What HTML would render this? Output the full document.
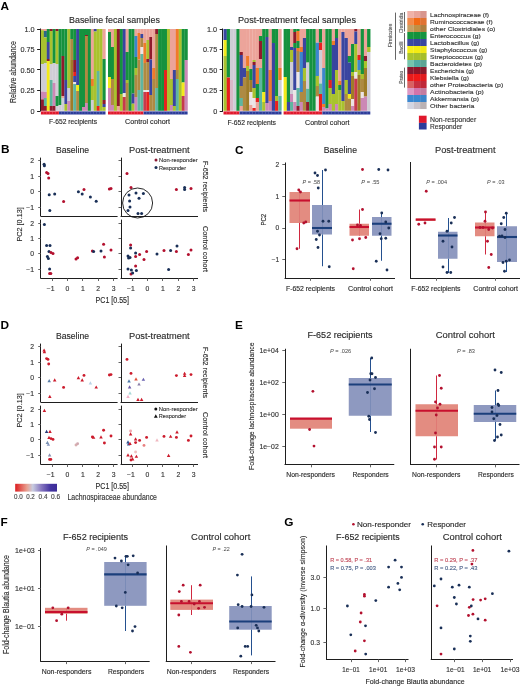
<!DOCTYPE html>
<html><head><meta charset="utf-8"><style>
html,body{margin:0;padding:0;background:#fff;}
svg{display:block;will-change:transform;font-family:"Liberation Sans",sans-serif;}
</style></head><body>
<svg width="520" height="687" viewBox="0 0 520 687" fill="#2a2a2a">
<rect width="520" height="687" fill="#fff"/>
<text x="0.50" y="10.00" font-size="11.8" font-weight="bold" fill="#000">A</text>
<text x="114.50" y="23.10" font-size="8.6" text-anchor="middle" textLength="91.00" lengthAdjust="spacingAndGlyphs" stroke="#2a2a2a" stroke-width="0.13">Baseline fecal samples</text>
<text x="297.00" y="23.10" font-size="8.6" text-anchor="middle" textLength="118.00" lengthAdjust="spacingAndGlyphs" stroke="#2a2a2a" stroke-width="0.13">Post-treatment fecal samples</text>
<text x="13.00" y="74.95" font-size="8.2" text-anchor="middle" textLength="62.00" lengthAdjust="spacingAndGlyphs" stroke="#2a2a2a" stroke-width="0.13" transform="rotate(-90 13.00 72.00)">Relative abundance</text>
<line x1="40.50" y1="28.50" x2="40.50" y2="111.40" stroke="#1e1e1e" stroke-width="1.0"/>
<line x1="37.10" y1="29.50" x2="40.30" y2="29.50" stroke="#1e1e1e" stroke-width="1.0"/>
<text x="34.60" y="31.63" font-size="7.3" text-anchor="end" fill="#333" stroke="#333" stroke-width="0.13">1.0</text>
<line x1="37.10" y1="49.50" x2="40.30" y2="49.50" stroke="#1e1e1e" stroke-width="1.0"/>
<text x="34.60" y="52.08" font-size="7.3" text-anchor="end" fill="#333" stroke="#333" stroke-width="0.13">0.75</text>
<line x1="37.10" y1="69.50" x2="40.30" y2="69.50" stroke="#1e1e1e" stroke-width="1.0"/>
<text x="34.60" y="72.53" font-size="7.3" text-anchor="end" fill="#333" stroke="#333" stroke-width="0.13">0.50</text>
<line x1="37.10" y1="90.50" x2="40.30" y2="90.50" stroke="#1e1e1e" stroke-width="1.0"/>
<text x="34.60" y="92.98" font-size="7.3" text-anchor="end" fill="#333" stroke="#333" stroke-width="0.13">0.25</text>
<line x1="37.10" y1="111.50" x2="40.30" y2="111.50" stroke="#1e1e1e" stroke-width="1.0"/>
<text x="34.60" y="114.03" font-size="7.3" text-anchor="end" fill="#333" stroke="#333" stroke-width="0.13">0</text>
<line x1="222.50" y1="28.50" x2="222.50" y2="111.40" stroke="#1e1e1e" stroke-width="1.0"/>
<line x1="219.70" y1="29.50" x2="222.90" y2="29.50" stroke="#1e1e1e" stroke-width="1.0"/>
<text x="217.20" y="31.63" font-size="7.3" text-anchor="end" fill="#333" stroke="#333" stroke-width="0.13">1.0</text>
<line x1="219.70" y1="49.50" x2="222.90" y2="49.50" stroke="#1e1e1e" stroke-width="1.0"/>
<text x="217.20" y="52.08" font-size="7.3" text-anchor="end" fill="#333" stroke="#333" stroke-width="0.13">0.75</text>
<line x1="219.70" y1="69.50" x2="222.90" y2="69.50" stroke="#1e1e1e" stroke-width="1.0"/>
<text x="217.20" y="72.53" font-size="7.3" text-anchor="end" fill="#333" stroke="#333" stroke-width="0.13">0.50</text>
<line x1="219.70" y1="90.50" x2="222.90" y2="90.50" stroke="#1e1e1e" stroke-width="1.0"/>
<text x="217.20" y="92.98" font-size="7.3" text-anchor="end" fill="#333" stroke="#333" stroke-width="0.13">0.25</text>
<line x1="219.70" y1="111.50" x2="222.90" y2="111.50" stroke="#1e1e1e" stroke-width="1.0"/>
<text x="217.20" y="114.03" font-size="7.3" text-anchor="end" fill="#333" stroke="#333" stroke-width="0.13">0</text>
<rect x="40.90" y="29.00" width="3.09" height="1.20" fill="#eca49a" />
<rect x="40.90" y="30.20" width="3.09" height="33.80" fill="#a9c22e" />
<rect x="40.90" y="64.00" width="3.09" height="27.50" fill="#cfcdd6" />
<rect x="40.90" y="91.50" width="3.09" height="7.90" fill="#cc88b6" />
<rect x="40.90" y="99.40" width="3.09" height="11.40" fill="#8f1a2c" />
<rect x="43.84" y="29.00" width="3.09" height="2.00" fill="#eca49a" />
<rect x="43.84" y="31.00" width="3.09" height="6.40" fill="#2e6888" />
<rect x="43.84" y="37.40" width="3.09" height="25.60" fill="#a9c22e" />
<rect x="43.84" y="63.00" width="3.09" height="29.00" fill="#cfcdd6" />
<rect x="43.84" y="92.00" width="3.09" height="6.00" fill="#cc88b6" />
<rect x="43.84" y="98.00" width="3.09" height="8.00" fill="#5fb5a0" />
<rect x="43.84" y="106.00" width="3.09" height="4.80" fill="#8f1a2c" />
<rect x="46.77" y="29.00" width="3.09" height="13.00" fill="#15923e" />
<rect x="46.77" y="42.00" width="3.09" height="17.00" fill="#3a45a0" />
<rect x="46.77" y="59.00" width="3.09" height="2.00" fill="#8f1a2c" />
<rect x="46.77" y="61.00" width="3.09" height="49.80" fill="#f3ea1c" />
<rect x="49.71" y="29.00" width="3.09" height="2.00" fill="#8f1a2c" />
<rect x="49.71" y="31.00" width="3.09" height="33.00" fill="#a9c22e" />
<rect x="49.71" y="64.00" width="3.09" height="16.00" fill="#cfcdd6" />
<rect x="49.71" y="80.00" width="3.09" height="26.00" fill="#5fb5a0" />
<rect x="49.71" y="106.00" width="3.09" height="4.80" fill="#8f1a2c" />
<rect x="52.65" y="29.00" width="3.09" height="34.00" fill="#15923e" />
<rect x="52.65" y="63.00" width="3.09" height="20.00" fill="#cfcdd6" />
<rect x="52.65" y="83.00" width="3.09" height="23.00" fill="#cc88b6" />
<rect x="52.65" y="106.00" width="3.09" height="4.80" fill="#8f1a2c" />
<rect x="55.58" y="29.00" width="3.09" height="2.00" fill="#8f1a2c" />
<rect x="55.58" y="31.00" width="3.09" height="33.00" fill="#a9c22e" />
<rect x="55.58" y="64.00" width="3.09" height="32.00" fill="#cfcdd6" />
<rect x="55.58" y="96.00" width="3.09" height="10.00" fill="#15923e" />
<rect x="55.58" y="106.00" width="3.09" height="4.80" fill="#cfcdd6" />
<rect x="58.52" y="29.00" width="3.09" height="76.00" fill="#15923e" />
<rect x="58.52" y="105.00" width="3.09" height="5.80" fill="#cfcdd6" />
<rect x="61.45" y="29.00" width="3.09" height="27.00" fill="#15923e" />
<rect x="61.45" y="56.00" width="3.09" height="40.00" fill="#8f1a2c" />
<rect x="61.45" y="96.00" width="3.09" height="2.00" fill="#eca49a" />
<rect x="61.45" y="98.00" width="3.09" height="12.80" fill="#cfcdd6" />
<rect x="64.39" y="29.00" width="3.09" height="51.00" fill="#15923e" />
<rect x="64.39" y="80.00" width="3.09" height="24.00" fill="#3a45a0" />
<rect x="64.39" y="104.00" width="3.09" height="6.80" fill="#a9c22e" />
<rect x="67.33" y="29.00" width="3.09" height="59.00" fill="#a9c22e" />
<rect x="67.33" y="88.00" width="3.09" height="13.00" fill="#cfcdd6" />
<rect x="67.33" y="101.00" width="3.09" height="9.80" fill="#cc88b6" />
<rect x="70.26" y="29.00" width="3.09" height="10.00" fill="#15923e" />
<rect x="70.26" y="39.00" width="3.09" height="21.00" fill="#ae8a42" />
<rect x="70.26" y="60.00" width="3.09" height="50.80" fill="#9e7c28" />
<rect x="73.20" y="29.00" width="3.09" height="31.00" fill="#15923e" />
<rect x="73.20" y="60.00" width="3.09" height="12.00" fill="#8f1a2c" />
<rect x="73.20" y="72.00" width="3.09" height="4.00" fill="#e8201e" />
<rect x="73.20" y="76.00" width="3.09" height="6.00" fill="#3a45a0" />
<rect x="73.20" y="82.00" width="3.09" height="2.00" fill="#ece4e6" />
<rect x="73.20" y="84.00" width="3.09" height="26.80" fill="#5fb5a0" />
<rect x="76.14" y="29.00" width="3.09" height="56.00" fill="#3a45a0" />
<rect x="76.14" y="85.00" width="3.09" height="6.00" fill="#f3ea1c" />
<rect x="76.14" y="91.00" width="3.09" height="19.80" fill="#ae8a42" />
<rect x="79.07" y="29.00" width="3.09" height="81.80" fill="#15923e" />
<rect x="82.01" y="29.00" width="3.09" height="78.00" fill="#15923e" />
<rect x="82.01" y="107.00" width="3.09" height="3.80" fill="#cc88b6" />
<rect x="84.95" y="29.00" width="3.09" height="6.00" fill="#15923e" />
<rect x="84.95" y="35.00" width="3.09" height="1.00" fill="#8f1a2c" />
<rect x="84.95" y="36.00" width="3.09" height="67.00" fill="#ae8a42" />
<rect x="84.95" y="103.00" width="3.09" height="7.80" fill="#cc88b6" />
<rect x="87.88" y="29.00" width="3.09" height="81.80" fill="#15923e" />
<rect x="90.82" y="29.00" width="3.09" height="50.00" fill="#eca49a" />
<rect x="90.82" y="79.00" width="3.09" height="7.00" fill="#f07a2a" />
<rect x="90.82" y="86.00" width="3.09" height="14.00" fill="#a9c22e" />
<rect x="90.82" y="100.00" width="3.09" height="10.80" fill="#cfcdd6" />
<rect x="93.75" y="29.00" width="3.09" height="2.50" fill="#3a45a0" />
<rect x="93.75" y="31.50" width="3.09" height="79.30" fill="#a9c22e" />
<rect x="96.69" y="29.00" width="3.09" height="42.00" fill="#a9c22e" />
<rect x="96.69" y="71.00" width="3.09" height="35.00" fill="#5fb5a0" />
<rect x="96.69" y="106.00" width="3.09" height="4.80" fill="#e8201e" />
<rect x="99.63" y="29.00" width="3.09" height="81.80" fill="#a9c22e" />
<rect x="102.56" y="29.00" width="3.09" height="30.00" fill="#eca49a" />
<rect x="102.56" y="59.00" width="3.09" height="41.00" fill="#15923e" />
<rect x="102.56" y="100.00" width="3.09" height="4.00" fill="#8f1a2c" />
<rect x="102.56" y="104.00" width="3.09" height="3.00" fill="#3a45a0" />
<rect x="102.56" y="107.00" width="3.09" height="3.80" fill="#a9c22e" />
<rect x="108.00" y="29.00" width="3.10" height="3.00" fill="#eca49a" />
<rect x="108.00" y="32.00" width="3.10" height="45.00" fill="#15923e" />
<rect x="108.00" y="77.00" width="3.10" height="11.00" fill="#f3ea1c" />
<rect x="108.00" y="88.00" width="3.10" height="22.80" fill="#cc88b6" />
<rect x="110.95" y="29.00" width="3.10" height="18.00" fill="#eca49a" />
<rect x="110.95" y="47.00" width="3.10" height="32.00" fill="#15923e" />
<rect x="110.95" y="79.00" width="3.10" height="26.00" fill="#ae8a42" />
<rect x="110.95" y="105.00" width="3.10" height="5.80" fill="#cc88b6" />
<rect x="113.90" y="29.00" width="3.10" height="81.80" fill="#a9c22e" />
<rect x="116.84" y="29.00" width="3.10" height="77.00" fill="#8f1a2c" />
<rect x="116.84" y="106.00" width="3.10" height="4.80" fill="#eca49a" />
<rect x="119.79" y="29.00" width="3.10" height="65.00" fill="#15923e" />
<rect x="119.79" y="94.00" width="3.10" height="16.80" fill="#a9c22e" />
<rect x="122.74" y="29.00" width="3.10" height="64.00" fill="#3a45a0" />
<rect x="122.74" y="93.00" width="3.10" height="4.00" fill="#ece4e6" />
<rect x="122.74" y="97.00" width="3.10" height="13.80" fill="#c63a4c" />
<rect x="125.69" y="29.00" width="3.10" height="23.00" fill="#eca49a" />
<rect x="125.69" y="52.00" width="3.10" height="28.00" fill="#15923e" />
<rect x="125.69" y="80.00" width="3.10" height="3.00" fill="#a9c22e" />
<rect x="125.69" y="83.00" width="3.10" height="27.80" fill="#ae8a42" />
<rect x="128.64" y="29.00" width="3.10" height="81.80" fill="#15923e" />
<rect x="131.59" y="29.00" width="3.10" height="64.60" fill="#15923e" />
<rect x="131.59" y="93.60" width="3.10" height="10.10" fill="#3a45a0" />
<rect x="131.59" y="103.70" width="3.10" height="7.10" fill="#a9c22e" />
<rect x="134.53" y="29.00" width="3.10" height="7.00" fill="#eca49a" />
<rect x="134.53" y="36.00" width="3.10" height="21.00" fill="#3d86cc" />
<rect x="134.53" y="57.00" width="3.10" height="11.00" fill="#15923e" />
<rect x="134.53" y="68.00" width="3.10" height="7.00" fill="#a9c22e" />
<rect x="134.53" y="75.00" width="3.10" height="22.00" fill="#ae8a42" />
<rect x="134.53" y="97.00" width="3.10" height="13.80" fill="#cc88b6" />
<rect x="137.48" y="29.00" width="3.10" height="4.00" fill="#eca49a" />
<rect x="137.48" y="33.00" width="3.10" height="26.50" fill="#f07a2a" />
<rect x="137.48" y="59.50" width="3.10" height="30.50" fill="#ae8a42" />
<rect x="137.48" y="90.00" width="3.10" height="20.80" fill="#5fb5a0" />
<rect x="140.43" y="29.00" width="3.10" height="5.00" fill="#eca49a" />
<rect x="140.43" y="34.00" width="3.10" height="4.00" fill="#3a45a0" />
<rect x="140.43" y="38.00" width="3.10" height="9.00" fill="#ae8a42" />
<rect x="140.43" y="47.00" width="3.10" height="7.00" fill="#ece4e6" />
<rect x="140.43" y="54.00" width="3.10" height="56.80" fill="#5fb5a0" />
<rect x="143.38" y="29.00" width="3.10" height="14.00" fill="#eca49a" />
<rect x="143.38" y="43.00" width="3.10" height="20.00" fill="#f07a2a" />
<rect x="143.38" y="63.00" width="3.10" height="27.00" fill="#ae8a42" />
<rect x="143.38" y="90.00" width="3.10" height="2.00" fill="#ece4e6" />
<rect x="143.38" y="92.00" width="3.10" height="18.80" fill="#c63a4c" />
<rect x="146.33" y="29.00" width="3.10" height="11.00" fill="#eca49a" />
<rect x="146.33" y="40.00" width="3.10" height="19.00" fill="#a9c22e" />
<rect x="146.33" y="59.00" width="3.10" height="3.00" fill="#8f1a2c" />
<rect x="146.33" y="62.00" width="3.10" height="28.00" fill="#ae8a42" />
<rect x="146.33" y="90.00" width="3.10" height="2.00" fill="#ece4e6" />
<rect x="146.33" y="92.00" width="3.10" height="18.80" fill="#e8201e" />
<rect x="149.27" y="29.00" width="3.10" height="8.00" fill="#eca49a" />
<rect x="149.27" y="37.00" width="3.10" height="22.50" fill="#8f1a2c" />
<rect x="149.27" y="59.50" width="3.10" height="35.50" fill="#3a45a0" />
<rect x="149.27" y="95.00" width="3.10" height="15.80" fill="#ae8a42" />
<rect x="152.22" y="29.00" width="3.10" height="39.00" fill="#eca49a" />
<rect x="152.22" y="68.00" width="3.10" height="11.00" fill="#f07a2a" />
<rect x="152.22" y="79.00" width="3.10" height="31.80" fill="#ae8a42" />
<rect x="155.17" y="29.00" width="3.10" height="5.00" fill="#8f1a2c" />
<rect x="155.17" y="34.00" width="3.10" height="54.00" fill="#ae8a42" />
<rect x="155.17" y="88.00" width="3.10" height="22.80" fill="#5fb5a0" />
<rect x="158.12" y="29.00" width="3.10" height="81.80" fill="#15923e" />
<rect x="161.07" y="29.00" width="3.10" height="81.80" fill="#15923e" />
<rect x="164.01" y="29.00" width="3.10" height="41.00" fill="#15923e" />
<rect x="164.01" y="70.00" width="3.10" height="40.80" fill="#e8201e" />
<rect x="166.96" y="29.00" width="3.10" height="81.80" fill="#a9c22e" />
<rect x="169.91" y="29.00" width="3.10" height="50.00" fill="#eca49a" />
<rect x="169.91" y="79.00" width="3.10" height="26.00" fill="#a9c22e" />
<rect x="169.91" y="105.00" width="3.10" height="5.80" fill="#cc88b6" />
<rect x="172.86" y="29.00" width="3.10" height="41.00" fill="#eca49a" />
<rect x="172.86" y="70.00" width="3.10" height="36.00" fill="#3a45a0" />
<rect x="172.86" y="106.00" width="3.10" height="4.80" fill="#a9c22e" />
<rect x="175.81" y="29.00" width="3.10" height="41.00" fill="#f07a2a" />
<rect x="175.81" y="70.00" width="3.10" height="9.00" fill="#ae8a42" />
<rect x="175.81" y="79.00" width="3.10" height="31.80" fill="#5fb5a0" />
<rect x="178.76" y="29.00" width="3.10" height="81.80" fill="#a9c22e" />
<rect x="181.70" y="29.00" width="3.10" height="53.50" fill="#15923e" />
<rect x="181.70" y="82.50" width="3.10" height="13.50" fill="#f3ea1c" />
<rect x="181.70" y="96.00" width="3.10" height="14.80" fill="#c63a4c" />
<rect x="184.65" y="29.00" width="3.10" height="31.00" fill="#15923e" />
<rect x="184.65" y="60.00" width="3.10" height="50.80" fill="#cc88b6" />
<rect x="223.50" y="29.00" width="3.37" height="11.00" fill="#3a45a0" />
<rect x="223.50" y="40.00" width="3.37" height="16.00" fill="#f3ea1c" />
<rect x="223.50" y="56.00" width="3.37" height="54.80" fill="#a9c22e" />
<rect x="226.72" y="29.00" width="3.37" height="48.50" fill="#15923e" />
<rect x="226.72" y="77.50" width="3.37" height="33.30" fill="#e8201e" />
<rect x="229.94" y="29.00" width="3.37" height="51.00" fill="#cfcdd6" />
<rect x="229.94" y="80.00" width="3.37" height="30.80" fill="#d8b8c8" />
<rect x="233.17" y="29.00" width="3.37" height="81.80" fill="#cfcdd6" />
<rect x="236.39" y="29.00" width="3.37" height="81.80" fill="#15923e" />
<rect x="239.61" y="29.00" width="3.37" height="23.00" fill="#eca49a" />
<rect x="239.61" y="52.00" width="3.37" height="3.00" fill="#8f1a2c" />
<rect x="239.61" y="55.00" width="3.37" height="31.00" fill="#3a45a0" />
<rect x="239.61" y="86.00" width="3.37" height="12.00" fill="#ae8a42" />
<rect x="239.61" y="98.00" width="3.37" height="8.00" fill="#5fb5a0" />
<rect x="239.61" y="106.00" width="3.37" height="4.80" fill="#eca49a" />
<rect x="242.83" y="29.00" width="3.37" height="39.00" fill="#eca49a" />
<rect x="242.83" y="68.00" width="3.37" height="9.50" fill="#3a45a0" />
<rect x="242.83" y="77.50" width="3.37" height="33.30" fill="#ae8a42" />
<rect x="246.06" y="29.00" width="3.37" height="27.00" fill="#eca49a" />
<rect x="246.06" y="56.00" width="3.37" height="10.00" fill="#f07a2a" />
<rect x="246.06" y="66.00" width="3.37" height="5.00" fill="#a9c22e" />
<rect x="246.06" y="71.00" width="3.37" height="39.80" fill="#9e7c28" />
<rect x="249.28" y="29.00" width="3.37" height="40.00" fill="#eca49a" />
<rect x="249.28" y="69.00" width="3.37" height="11.00" fill="#15923e" />
<rect x="249.28" y="80.00" width="3.37" height="12.00" fill="#9e7c28" />
<rect x="249.28" y="92.00" width="3.37" height="13.00" fill="#ece4e6" />
<rect x="249.28" y="105.00" width="3.37" height="5.80" fill="#eca49a" />
<rect x="252.50" y="29.00" width="3.37" height="31.00" fill="#eca49a" />
<rect x="252.50" y="60.00" width="3.37" height="2.00" fill="#a9c22e" />
<rect x="252.50" y="62.00" width="3.37" height="3.00" fill="#8f1a2c" />
<rect x="252.50" y="65.00" width="3.37" height="23.00" fill="#3a45a0" />
<rect x="252.50" y="88.00" width="3.37" height="10.00" fill="#a9c22e" />
<rect x="252.50" y="98.00" width="3.37" height="10.00" fill="#ece4e6" />
<rect x="252.50" y="108.00" width="3.37" height="2.80" fill="#e8201e" />
<rect x="255.72" y="29.00" width="3.37" height="39.00" fill="#eca49a" />
<rect x="255.72" y="68.00" width="3.37" height="16.00" fill="#f07a2a" />
<rect x="255.72" y="84.00" width="3.37" height="14.00" fill="#15923e" />
<rect x="255.72" y="98.00" width="3.37" height="4.00" fill="#e8201e" />
<rect x="255.72" y="102.00" width="3.37" height="8.80" fill="#eca49a" />
<rect x="258.94" y="29.00" width="3.37" height="7.00" fill="#eca49a" />
<rect x="258.94" y="36.00" width="3.37" height="5.00" fill="#15923e" />
<rect x="258.94" y="41.00" width="3.37" height="18.00" fill="#8f1a2c" />
<rect x="258.94" y="59.00" width="3.37" height="9.00" fill="#eca49a" />
<rect x="258.94" y="68.00" width="3.37" height="42.80" fill="#5fb5a0" />
<rect x="262.17" y="29.00" width="3.37" height="63.00" fill="#15923e" />
<rect x="262.17" y="92.00" width="3.37" height="10.00" fill="#f3ea1c" />
<rect x="262.17" y="102.00" width="3.37" height="8.80" fill="#a9c22e" />
<rect x="265.39" y="29.00" width="3.37" height="8.00" fill="#15923e" />
<rect x="265.39" y="37.00" width="3.37" height="66.00" fill="#3a45a0" />
<rect x="265.39" y="103.00" width="3.37" height="7.80" fill="#cc88b6" />
<rect x="268.61" y="29.00" width="3.37" height="41.00" fill="#eca49a" />
<rect x="268.61" y="70.00" width="3.37" height="31.00" fill="#f07a2a" />
<rect x="268.61" y="101.00" width="3.37" height="9.80" fill="#cc88b6" />
<rect x="271.83" y="29.00" width="3.37" height="14.00" fill="#15923e" />
<rect x="271.83" y="43.00" width="3.37" height="67.80" fill="#3a45a0" />
<rect x="275.06" y="29.00" width="3.37" height="67.00" fill="#15923e" />
<rect x="275.06" y="96.00" width="3.37" height="5.00" fill="#a9c22e" />
<rect x="275.06" y="101.00" width="3.37" height="9.80" fill="#e8201e" />
<rect x="278.28" y="29.00" width="3.37" height="39.00" fill="#eca49a" />
<rect x="278.28" y="68.00" width="3.37" height="12.00" fill="#f07a2a" />
<rect x="278.28" y="80.00" width="3.37" height="16.00" fill="#cfcdd6" />
<rect x="278.28" y="96.00" width="3.37" height="14.80" fill="#5fb5a0" />
<rect x="283.60" y="29.00" width="3.36" height="48.00" fill="#15923e" />
<rect x="283.60" y="77.00" width="3.36" height="33.80" fill="#f3ea1c" />
<rect x="286.81" y="29.00" width="3.36" height="73.00" fill="#15923e" />
<rect x="286.81" y="102.00" width="3.36" height="8.80" fill="#3a45a0" />
<rect x="290.02" y="29.00" width="3.36" height="18.00" fill="#eca49a" />
<rect x="290.02" y="47.00" width="3.36" height="3.00" fill="#3a45a0" />
<rect x="290.02" y="50.00" width="3.36" height="12.00" fill="#a9c22e" />
<rect x="290.02" y="62.00" width="3.36" height="32.00" fill="#cfcdd6" />
<rect x="290.02" y="94.00" width="3.36" height="8.00" fill="#cc88b6" />
<rect x="290.02" y="102.00" width="3.36" height="8.80" fill="#5fb5a0" />
<rect x="293.23" y="29.00" width="3.36" height="3.00" fill="#15923e" />
<rect x="293.23" y="32.00" width="3.36" height="11.00" fill="#8f1a2c" />
<rect x="293.23" y="43.00" width="3.36" height="5.00" fill="#15923e" />
<rect x="293.23" y="48.00" width="3.36" height="42.00" fill="#3a45a0" />
<rect x="293.23" y="90.00" width="3.36" height="12.00" fill="#ece4e6" />
<rect x="293.23" y="102.00" width="3.36" height="8.80" fill="#cc88b6" />
<rect x="296.44" y="29.00" width="3.36" height="2.00" fill="#15923e" />
<rect x="296.44" y="31.00" width="3.36" height="10.00" fill="#f07a2a" />
<rect x="296.44" y="41.00" width="3.36" height="7.00" fill="#15923e" />
<rect x="296.44" y="48.00" width="3.36" height="3.00" fill="#f07a2a" />
<rect x="296.44" y="51.00" width="3.36" height="21.00" fill="#ae8a42" />
<rect x="296.44" y="72.00" width="3.36" height="16.00" fill="#ece4e6" />
<rect x="296.44" y="88.00" width="3.36" height="18.00" fill="#5fb5a0" />
<rect x="296.44" y="106.00" width="3.36" height="4.80" fill="#8f1a2c" />
<rect x="299.66" y="29.00" width="3.36" height="18.00" fill="#eca49a" />
<rect x="299.66" y="47.00" width="3.36" height="5.00" fill="#f07a2a" />
<rect x="299.66" y="52.00" width="3.36" height="40.00" fill="#3d86cc" />
<rect x="299.66" y="92.00" width="3.36" height="10.00" fill="#ae8a42" />
<rect x="299.66" y="102.00" width="3.36" height="8.80" fill="#cc88b6" />
<rect x="302.87" y="29.00" width="3.36" height="9.00" fill="#eca49a" />
<rect x="302.87" y="38.00" width="3.36" height="30.00" fill="#3a45a0" />
<rect x="302.87" y="68.00" width="3.36" height="13.00" fill="#a9c22e" />
<rect x="302.87" y="81.00" width="3.36" height="29.80" fill="#ae8a42" />
<rect x="306.08" y="29.00" width="3.36" height="33.60" fill="#15923e" />
<rect x="306.08" y="62.60" width="3.36" height="26.20" fill="#cfcdd6" />
<rect x="306.08" y="88.80" width="3.36" height="13.20" fill="#5fb5a0" />
<rect x="306.08" y="102.00" width="3.36" height="8.80" fill="#8f1a2c" />
<rect x="309.29" y="29.00" width="3.36" height="81.80" fill="#15923e" />
<rect x="312.50" y="29.00" width="3.36" height="81.80" fill="#15923e" />
<rect x="315.71" y="29.00" width="3.36" height="13.70" fill="#eca49a" />
<rect x="315.71" y="42.70" width="3.36" height="33.30" fill="#3d86cc" />
<rect x="315.71" y="76.00" width="3.36" height="10.00" fill="#a9c22e" />
<rect x="315.71" y="86.00" width="3.36" height="10.60" fill="#ae8a42" />
<rect x="315.71" y="96.60" width="3.36" height="14.20" fill="#ece4e6" />
<rect x="318.92" y="29.00" width="3.36" height="13.70" fill="#15923e" />
<rect x="318.92" y="42.70" width="3.36" height="7.30" fill="#e8201e" />
<rect x="318.92" y="50.00" width="3.36" height="33.50" fill="#cfcdd6" />
<rect x="318.92" y="83.50" width="3.36" height="10.50" fill="#5fb5a0" />
<rect x="318.92" y="94.00" width="3.36" height="16.80" fill="#e8201e" />
<rect x="322.13" y="29.00" width="3.36" height="39.00" fill="#eca49a" />
<rect x="322.13" y="68.00" width="3.36" height="36.00" fill="#3d86cc" />
<rect x="322.13" y="104.00" width="3.36" height="3.00" fill="#f07a2a" />
<rect x="322.13" y="107.00" width="3.36" height="3.80" fill="#cc88b6" />
<rect x="325.34" y="29.00" width="3.36" height="79.50" fill="#15923e" />
<rect x="325.34" y="108.50" width="3.36" height="2.30" fill="#cc88b6" />
<rect x="328.56" y="29.00" width="3.36" height="51.00" fill="#15923e" />
<rect x="328.56" y="80.00" width="3.36" height="8.00" fill="#e8201e" />
<rect x="328.56" y="88.00" width="3.36" height="16.00" fill="#a9c22e" />
<rect x="328.56" y="104.00" width="3.36" height="6.80" fill="#cc88b6" />
<rect x="331.77" y="29.00" width="3.36" height="12.00" fill="#eca49a" />
<rect x="331.77" y="41.00" width="3.36" height="4.00" fill="#f07a2a" />
<rect x="331.77" y="45.00" width="3.36" height="49.00" fill="#3a45a0" />
<rect x="331.77" y="94.00" width="3.36" height="16.80" fill="#a9c22e" />
<rect x="334.98" y="29.00" width="3.36" height="9.00" fill="#15923e" />
<rect x="334.98" y="38.00" width="3.36" height="32.00" fill="#3a45a0" />
<rect x="334.98" y="70.00" width="3.36" height="34.00" fill="#a9c22e" />
<rect x="334.98" y="104.00" width="3.36" height="6.80" fill="#cc88b6" />
<rect x="338.19" y="29.00" width="3.36" height="52.00" fill="#eca49a" />
<rect x="338.19" y="81.00" width="3.36" height="4.00" fill="#f07a2a" />
<rect x="338.19" y="85.00" width="3.36" height="5.00" fill="#15923e" />
<rect x="338.19" y="90.00" width="3.36" height="20.80" fill="#a9c22e" />
<rect x="341.40" y="29.00" width="3.36" height="3.00" fill="#eca49a" />
<rect x="341.40" y="32.00" width="3.36" height="69.00" fill="#3a45a0" />
<rect x="341.40" y="101.00" width="3.36" height="9.80" fill="#a9c22e" />
<rect x="344.61" y="29.00" width="3.36" height="9.00" fill="#eca49a" />
<rect x="344.61" y="38.00" width="3.36" height="42.00" fill="#3a45a0" />
<rect x="344.61" y="80.00" width="3.36" height="14.00" fill="#a9c22e" />
<rect x="344.61" y="94.00" width="3.36" height="16.80" fill="#ae8a42" />
<rect x="347.82" y="29.00" width="3.36" height="27.00" fill="#eca49a" />
<rect x="347.82" y="56.00" width="3.36" height="6.60" fill="#15923e" />
<rect x="347.82" y="62.60" width="3.36" height="31.40" fill="#3a45a0" />
<rect x="347.82" y="94.00" width="3.36" height="4.60" fill="#f3ea1c" />
<rect x="347.82" y="98.60" width="3.36" height="12.20" fill="#ae8a42" />
<rect x="351.03" y="29.00" width="3.36" height="15.00" fill="#eca49a" />
<rect x="351.03" y="44.00" width="3.36" height="28.00" fill="#15923e" />
<rect x="351.03" y="72.00" width="3.36" height="4.00" fill="#a9c22e" />
<rect x="351.03" y="76.00" width="3.36" height="23.00" fill="#9e7c28" />
<rect x="351.03" y="99.00" width="3.36" height="7.00" fill="#ece4e6" />
<rect x="351.03" y="106.00" width="3.36" height="4.80" fill="#cc88b6" />
<rect x="354.24" y="29.00" width="3.36" height="2.50" fill="#8f1a2c" />
<rect x="354.24" y="31.50" width="3.36" height="12.50" fill="#3a45a0" />
<rect x="354.24" y="44.00" width="3.36" height="28.00" fill="#a9c22e" />
<rect x="354.24" y="72.00" width="3.36" height="6.70" fill="#ece4e6" />
<rect x="354.24" y="78.70" width="3.36" height="32.10" fill="#c63a4c" />
<rect x="357.46" y="29.00" width="3.36" height="26.00" fill="#eca49a" />
<rect x="357.46" y="55.00" width="3.36" height="5.00" fill="#e8201e" />
<rect x="357.46" y="60.00" width="3.36" height="10.00" fill="#3d86cc" />
<rect x="357.46" y="70.00" width="3.36" height="5.00" fill="#a9c22e" />
<rect x="357.46" y="75.00" width="3.36" height="35.80" fill="#9e7c28" />
<rect x="360.67" y="29.00" width="3.36" height="45.00" fill="#15923e" />
<rect x="360.67" y="74.00" width="3.36" height="5.00" fill="#a9c22e" />
<rect x="360.67" y="79.00" width="3.36" height="13.00" fill="#ae8a42" />
<rect x="360.67" y="92.00" width="3.36" height="6.00" fill="#ece4e6" />
<rect x="360.67" y="98.00" width="3.36" height="12.80" fill="#cc88b6" />
<rect x="363.88" y="29.00" width="3.36" height="27.00" fill="#eca49a" />
<rect x="363.88" y="56.00" width="3.36" height="5.00" fill="#8f1a2c" />
<rect x="363.88" y="61.00" width="3.36" height="7.00" fill="#a9c22e" />
<rect x="363.88" y="68.00" width="3.36" height="28.60" fill="#9e7c28" />
<rect x="363.88" y="96.60" width="3.36" height="14.20" fill="#cc88b6" />
<rect x="367.09" y="29.00" width="3.36" height="18.00" fill="#15923e" />
<rect x="367.09" y="47.00" width="3.36" height="5.00" fill="#a9c22e" />
<rect x="367.09" y="52.00" width="3.36" height="58.80" fill="#cfcdd6" />
<rect x="40.90" y="111.40" width="18.10" height="3.10" fill="#e0182c" />
<rect x="59.00" y="111.40" width="46.50" height="3.10" fill="#2c3c9a" />
<rect x="43.59" y="112.4" width="0.5" height="1.1" fill="#ffffff" opacity="0.55"/>
<rect x="46.52" y="112.4" width="0.5" height="1.1" fill="#ffffff" opacity="0.55"/>
<rect x="49.46" y="112.4" width="0.5" height="1.1" fill="#ffffff" opacity="0.55"/>
<rect x="52.40" y="112.4" width="0.5" height="1.1" fill="#ffffff" opacity="0.55"/>
<rect x="55.33" y="112.4" width="0.5" height="1.1" fill="#ffffff" opacity="0.55"/>
<rect x="58.27" y="112.4" width="0.5" height="1.1" fill="#ffffff" opacity="0.55"/>
<rect x="61.20" y="112.4" width="0.5" height="1.1" fill="#ffffff" opacity="0.55"/>
<rect x="64.14" y="112.4" width="0.5" height="1.1" fill="#ffffff" opacity="0.55"/>
<rect x="67.08" y="112.4" width="0.5" height="1.1" fill="#ffffff" opacity="0.55"/>
<rect x="70.01" y="112.4" width="0.5" height="1.1" fill="#ffffff" opacity="0.55"/>
<rect x="72.95" y="112.4" width="0.5" height="1.1" fill="#ffffff" opacity="0.55"/>
<rect x="75.89" y="112.4" width="0.5" height="1.1" fill="#ffffff" opacity="0.55"/>
<rect x="78.82" y="112.4" width="0.5" height="1.1" fill="#ffffff" opacity="0.55"/>
<rect x="81.76" y="112.4" width="0.5" height="1.1" fill="#ffffff" opacity="0.55"/>
<rect x="84.70" y="112.4" width="0.5" height="1.1" fill="#ffffff" opacity="0.55"/>
<rect x="87.63" y="112.4" width="0.5" height="1.1" fill="#ffffff" opacity="0.55"/>
<rect x="90.57" y="112.4" width="0.5" height="1.1" fill="#ffffff" opacity="0.55"/>
<rect x="93.50" y="112.4" width="0.5" height="1.1" fill="#ffffff" opacity="0.55"/>
<rect x="96.44" y="112.4" width="0.5" height="1.1" fill="#ffffff" opacity="0.55"/>
<rect x="99.38" y="112.4" width="0.5" height="1.1" fill="#ffffff" opacity="0.55"/>
<rect x="102.31" y="112.4" width="0.5" height="1.1" fill="#ffffff" opacity="0.55"/>
<rect x="108.00" y="111.40" width="35.60" height="3.10" fill="#e0182c" />
<rect x="143.60" y="111.40" width="44.00" height="3.10" fill="#2c3c9a" />
<rect x="110.70" y="112.4" width="0.5" height="1.1" fill="#ffffff" opacity="0.55"/>
<rect x="113.65" y="112.4" width="0.5" height="1.1" fill="#ffffff" opacity="0.55"/>
<rect x="116.59" y="112.4" width="0.5" height="1.1" fill="#ffffff" opacity="0.55"/>
<rect x="119.54" y="112.4" width="0.5" height="1.1" fill="#ffffff" opacity="0.55"/>
<rect x="122.49" y="112.4" width="0.5" height="1.1" fill="#ffffff" opacity="0.55"/>
<rect x="125.44" y="112.4" width="0.5" height="1.1" fill="#ffffff" opacity="0.55"/>
<rect x="128.39" y="112.4" width="0.5" height="1.1" fill="#ffffff" opacity="0.55"/>
<rect x="131.34" y="112.4" width="0.5" height="1.1" fill="#ffffff" opacity="0.55"/>
<rect x="134.28" y="112.4" width="0.5" height="1.1" fill="#ffffff" opacity="0.55"/>
<rect x="137.23" y="112.4" width="0.5" height="1.1" fill="#ffffff" opacity="0.55"/>
<rect x="140.18" y="112.4" width="0.5" height="1.1" fill="#ffffff" opacity="0.55"/>
<rect x="143.13" y="112.4" width="0.5" height="1.1" fill="#ffffff" opacity="0.55"/>
<rect x="146.08" y="112.4" width="0.5" height="1.1" fill="#ffffff" opacity="0.55"/>
<rect x="149.02" y="112.4" width="0.5" height="1.1" fill="#ffffff" opacity="0.55"/>
<rect x="151.97" y="112.4" width="0.5" height="1.1" fill="#ffffff" opacity="0.55"/>
<rect x="154.92" y="112.4" width="0.5" height="1.1" fill="#ffffff" opacity="0.55"/>
<rect x="157.87" y="112.4" width="0.5" height="1.1" fill="#ffffff" opacity="0.55"/>
<rect x="160.82" y="112.4" width="0.5" height="1.1" fill="#ffffff" opacity="0.55"/>
<rect x="163.76" y="112.4" width="0.5" height="1.1" fill="#ffffff" opacity="0.55"/>
<rect x="166.71" y="112.4" width="0.5" height="1.1" fill="#ffffff" opacity="0.55"/>
<rect x="169.66" y="112.4" width="0.5" height="1.1" fill="#ffffff" opacity="0.55"/>
<rect x="172.61" y="112.4" width="0.5" height="1.1" fill="#ffffff" opacity="0.55"/>
<rect x="175.56" y="112.4" width="0.5" height="1.1" fill="#ffffff" opacity="0.55"/>
<rect x="178.51" y="112.4" width="0.5" height="1.1" fill="#ffffff" opacity="0.55"/>
<rect x="181.45" y="112.4" width="0.5" height="1.1" fill="#ffffff" opacity="0.55"/>
<rect x="184.40" y="112.4" width="0.5" height="1.1" fill="#ffffff" opacity="0.55"/>
<rect x="223.50" y="111.40" width="16.00" height="3.10" fill="#e0182c" />
<rect x="239.50" y="111.40" width="42.00" height="3.10" fill="#2c3c9a" />
<rect x="226.47" y="112.4" width="0.5" height="1.1" fill="#ffffff" opacity="0.55"/>
<rect x="229.69" y="112.4" width="0.5" height="1.1" fill="#ffffff" opacity="0.55"/>
<rect x="232.92" y="112.4" width="0.5" height="1.1" fill="#ffffff" opacity="0.55"/>
<rect x="236.14" y="112.4" width="0.5" height="1.1" fill="#ffffff" opacity="0.55"/>
<rect x="239.36" y="112.4" width="0.5" height="1.1" fill="#ffffff" opacity="0.55"/>
<rect x="242.58" y="112.4" width="0.5" height="1.1" fill="#ffffff" opacity="0.55"/>
<rect x="245.81" y="112.4" width="0.5" height="1.1" fill="#ffffff" opacity="0.55"/>
<rect x="249.03" y="112.4" width="0.5" height="1.1" fill="#ffffff" opacity="0.55"/>
<rect x="252.25" y="112.4" width="0.5" height="1.1" fill="#ffffff" opacity="0.55"/>
<rect x="255.47" y="112.4" width="0.5" height="1.1" fill="#ffffff" opacity="0.55"/>
<rect x="258.69" y="112.4" width="0.5" height="1.1" fill="#ffffff" opacity="0.55"/>
<rect x="261.92" y="112.4" width="0.5" height="1.1" fill="#ffffff" opacity="0.55"/>
<rect x="265.14" y="112.4" width="0.5" height="1.1" fill="#ffffff" opacity="0.55"/>
<rect x="268.36" y="112.4" width="0.5" height="1.1" fill="#ffffff" opacity="0.55"/>
<rect x="271.58" y="112.4" width="0.5" height="1.1" fill="#ffffff" opacity="0.55"/>
<rect x="274.81" y="112.4" width="0.5" height="1.1" fill="#ffffff" opacity="0.55"/>
<rect x="278.03" y="112.4" width="0.5" height="1.1" fill="#ffffff" opacity="0.55"/>
<rect x="283.60" y="111.40" width="38.70" height="3.10" fill="#e0182c" />
<rect x="322.30" y="111.40" width="48.00" height="3.10" fill="#2c3c9a" />
<rect x="286.56" y="112.4" width="0.5" height="1.1" fill="#ffffff" opacity="0.55"/>
<rect x="289.77" y="112.4" width="0.5" height="1.1" fill="#ffffff" opacity="0.55"/>
<rect x="292.98" y="112.4" width="0.5" height="1.1" fill="#ffffff" opacity="0.55"/>
<rect x="296.19" y="112.4" width="0.5" height="1.1" fill="#ffffff" opacity="0.55"/>
<rect x="299.41" y="112.4" width="0.5" height="1.1" fill="#ffffff" opacity="0.55"/>
<rect x="302.62" y="112.4" width="0.5" height="1.1" fill="#ffffff" opacity="0.55"/>
<rect x="305.83" y="112.4" width="0.5" height="1.1" fill="#ffffff" opacity="0.55"/>
<rect x="309.04" y="112.4" width="0.5" height="1.1" fill="#ffffff" opacity="0.55"/>
<rect x="312.25" y="112.4" width="0.5" height="1.1" fill="#ffffff" opacity="0.55"/>
<rect x="315.46" y="112.4" width="0.5" height="1.1" fill="#ffffff" opacity="0.55"/>
<rect x="318.67" y="112.4" width="0.5" height="1.1" fill="#ffffff" opacity="0.55"/>
<rect x="321.88" y="112.4" width="0.5" height="1.1" fill="#ffffff" opacity="0.55"/>
<rect x="325.09" y="112.4" width="0.5" height="1.1" fill="#ffffff" opacity="0.55"/>
<rect x="328.31" y="112.4" width="0.5" height="1.1" fill="#ffffff" opacity="0.55"/>
<rect x="331.52" y="112.4" width="0.5" height="1.1" fill="#ffffff" opacity="0.55"/>
<rect x="334.73" y="112.4" width="0.5" height="1.1" fill="#ffffff" opacity="0.55"/>
<rect x="337.94" y="112.4" width="0.5" height="1.1" fill="#ffffff" opacity="0.55"/>
<rect x="341.15" y="112.4" width="0.5" height="1.1" fill="#ffffff" opacity="0.55"/>
<rect x="344.36" y="112.4" width="0.5" height="1.1" fill="#ffffff" opacity="0.55"/>
<rect x="347.57" y="112.4" width="0.5" height="1.1" fill="#ffffff" opacity="0.55"/>
<rect x="350.78" y="112.4" width="0.5" height="1.1" fill="#ffffff" opacity="0.55"/>
<rect x="353.99" y="112.4" width="0.5" height="1.1" fill="#ffffff" opacity="0.55"/>
<rect x="357.21" y="112.4" width="0.5" height="1.1" fill="#ffffff" opacity="0.55"/>
<rect x="360.42" y="112.4" width="0.5" height="1.1" fill="#ffffff" opacity="0.55"/>
<rect x="363.63" y="112.4" width="0.5" height="1.1" fill="#ffffff" opacity="0.55"/>
<rect x="366.84" y="112.4" width="0.5" height="1.1" fill="#ffffff" opacity="0.55"/>
<text x="73.00" y="124.32" font-size="7.0" text-anchor="middle" textLength="48.00" lengthAdjust="spacingAndGlyphs" stroke="#2a2a2a" stroke-width="0.13">F-652 recipients</text>
<text x="147.50" y="124.32" font-size="7.0" text-anchor="middle" textLength="45.00" lengthAdjust="spacingAndGlyphs" stroke="#2a2a2a" stroke-width="0.13">Control cohort</text>
<text x="251.70" y="125.32" font-size="7.0" text-anchor="middle" textLength="48.60" lengthAdjust="spacingAndGlyphs" stroke="#2a2a2a" stroke-width="0.13">F-652 recipients</text>
<text x="327.30" y="125.32" font-size="7.0" text-anchor="middle" textLength="44.60" lengthAdjust="spacingAndGlyphs" stroke="#2a2a2a" stroke-width="0.13">Control cohort</text>
<rect x="407.30" y="11.00" width="6.50" height="7.05" fill="#f0b2a8" />
<rect x="413.70" y="11.00" width="6.50" height="7.05" fill="#e8a49a" />
<rect x="420.10" y="11.00" width="6.50" height="7.05" fill="#d8968e" />
<text x="459.55" y="16.70" font-size="6.1" text-anchor="middle" textLength="58.90" lengthAdjust="spacingAndGlyphs" fill="#333" stroke="#333" stroke-width="0.13">Lachnospiraceae (f)</text>
<rect x="407.30" y="18.00" width="6.50" height="7.05" fill="#f28a4a" />
<rect x="413.70" y="18.00" width="6.50" height="7.05" fill="#f26a14" />
<rect x="420.10" y="18.00" width="6.50" height="7.05" fill="#e07434" />
<text x="461.35" y="23.70" font-size="6.1" text-anchor="middle" textLength="62.50" lengthAdjust="spacingAndGlyphs" fill="#333" stroke="#333" stroke-width="0.13">Ruminococcaceae (f)</text>
<rect x="407.30" y="25.00" width="6.50" height="7.05" fill="#c8a064" />
<rect x="413.70" y="25.00" width="6.50" height="7.05" fill="#c09046" />
<rect x="420.10" y="25.00" width="6.50" height="7.05" fill="#ae8040" />
<text x="462.75" y="30.70" font-size="6.1" text-anchor="middle" textLength="65.30" lengthAdjust="spacingAndGlyphs" fill="#333" stroke="#333" stroke-width="0.13">other Clostridiales (o)</text>
<rect x="407.30" y="32.00" width="6.50" height="7.05" fill="#14963e" />
<rect x="413.70" y="32.00" width="6.50" height="7.05" fill="#12923c" />
<rect x="420.10" y="32.00" width="6.50" height="7.05" fill="#149440" />
<text x="455.45" y="37.70" font-size="6.1" text-anchor="middle" textLength="50.70" lengthAdjust="spacingAndGlyphs" fill="#333" stroke="#333" stroke-width="0.13">Enterococcus (g)</text>
<rect x="407.30" y="39.00" width="6.50" height="7.05" fill="#3a48a2" />
<rect x="413.70" y="39.00" width="6.50" height="7.05" fill="#3844a0" />
<rect x="420.10" y="39.00" width="6.50" height="7.05" fill="#38469e" />
<text x="454.70" y="44.70" font-size="6.1" text-anchor="middle" textLength="49.20" lengthAdjust="spacingAndGlyphs" fill="#333" stroke="#333" stroke-width="0.13">Lactobacillus (g)</text>
<rect x="407.30" y="46.00" width="6.50" height="7.05" fill="#f6ee18" />
<rect x="413.70" y="46.00" width="6.50" height="7.05" fill="#f4ec12" />
<rect x="420.10" y="46.00" width="6.50" height="7.05" fill="#f0e818" />
<text x="458.65" y="51.70" font-size="6.1" text-anchor="middle" textLength="57.10" lengthAdjust="spacingAndGlyphs" fill="#333" stroke="#333" stroke-width="0.13">Staphylococcus (g)</text>
<rect x="407.30" y="53.00" width="6.50" height="7.05" fill="#aac42c" />
<rect x="413.70" y="53.00" width="6.50" height="7.05" fill="#a8c02a" />
<rect x="420.10" y="53.00" width="6.50" height="7.05" fill="#a6be2a" />
<text x="456.60" y="58.70" font-size="6.1" text-anchor="middle" textLength="53.00" lengthAdjust="spacingAndGlyphs" fill="#333" stroke="#333" stroke-width="0.13">Streptococcus (g)</text>
<rect x="407.30" y="60.00" width="6.50" height="7.05" fill="#74c4ac" />
<rect x="413.70" y="60.00" width="6.50" height="7.05" fill="#52aca4" />
<rect x="420.10" y="60.00" width="6.50" height="7.05" fill="#5ea494" />
<text x="456.05" y="65.70" font-size="6.1" text-anchor="middle" textLength="51.90" lengthAdjust="spacingAndGlyphs" fill="#333" stroke="#333" stroke-width="0.13">Bacteroidetes (p)</text>
<rect x="407.30" y="67.00" width="6.50" height="7.05" fill="#8c1830" />
<rect x="413.70" y="67.00" width="6.50" height="7.05" fill="#901428" />
<rect x="420.10" y="67.00" width="6.50" height="7.05" fill="#8a1a2c" />
<text x="452.05" y="72.70" font-size="6.1" text-anchor="middle" textLength="43.90" lengthAdjust="spacingAndGlyphs" fill="#333" stroke="#333" stroke-width="0.13">Escherichia (g)</text>
<rect x="407.30" y="74.00" width="6.50" height="7.05" fill="#e81c1c" />
<rect x="413.70" y="74.00" width="6.50" height="7.05" fill="#f01818" />
<rect x="420.10" y="74.00" width="6.50" height="7.05" fill="#e01c20" />
<text x="449.50" y="79.70" font-size="6.1" text-anchor="middle" textLength="38.80" lengthAdjust="spacingAndGlyphs" fill="#333" stroke="#333" stroke-width="0.13">Klebsiella (g)</text>
<rect x="407.30" y="81.00" width="6.50" height="7.05" fill="#d86262" />
<rect x="413.70" y="81.00" width="6.50" height="7.05" fill="#c83040" />
<rect x="420.10" y="81.00" width="6.50" height="7.05" fill="#c02838" />
<text x="466.65" y="86.70" font-size="6.1" text-anchor="middle" textLength="73.10" lengthAdjust="spacingAndGlyphs" fill="#333" stroke="#333" stroke-width="0.13">other Proteobacteria (p)</text>
<rect x="407.30" y="88.00" width="6.50" height="7.05" fill="#dc98c4" />
<rect x="413.70" y="88.00" width="6.50" height="7.05" fill="#d274aa" />
<rect x="420.10" y="88.00" width="6.50" height="7.05" fill="#c47ca0" />
<text x="457.00" y="93.70" font-size="6.1" text-anchor="middle" textLength="53.80" lengthAdjust="spacingAndGlyphs" fill="#333" stroke="#333" stroke-width="0.13">Actinobacteria (p)</text>
<rect x="407.30" y="95.00" width="6.50" height="7.05" fill="#3c88d0" />
<rect x="413.70" y="95.00" width="6.50" height="7.05" fill="#3888d0" />
<rect x="420.10" y="95.00" width="6.50" height="7.05" fill="#3c84c8" />
<text x="454.50" y="100.70" font-size="6.1" text-anchor="middle" textLength="48.80" lengthAdjust="spacingAndGlyphs" fill="#333" stroke="#333" stroke-width="0.13">Akkermansia (p)</text>
<rect x="407.30" y="102.00" width="6.50" height="7.05" fill="#d4d6e2" />
<rect x="413.70" y="102.00" width="6.50" height="7.05" fill="#cac4cc" />
<rect x="420.10" y="102.00" width="6.50" height="7.05" fill="#bab2b4" />
<text x="452.25" y="107.70" font-size="6.1" text-anchor="middle" textLength="44.30" lengthAdjust="spacingAndGlyphs" fill="#333" stroke="#333" stroke-width="0.13">Other bacteria</text>
<line x1="395.50" y1="12.60" x2="395.50" y2="59.80" stroke="#555" stroke-width="0.9"/>
<line x1="404.50" y1="12.00" x2="404.50" y2="31.50" stroke="#555" stroke-width="0.9"/>
<line x1="404.50" y1="33.00" x2="404.50" y2="59.30" stroke="#555" stroke-width="0.9"/>
<line x1="404.50" y1="67.60" x2="404.50" y2="87.60" stroke="#555" stroke-width="0.9"/>
<text x="390.20" y="37.37" font-size="5.2" text-anchor="middle" textLength="23.50" lengthAdjust="spacingAndGlyphs" fill="#555" stroke="#555" stroke-width="0.13" transform="rotate(-90 390.20 35.50)">Firmicutes</text>
<text x="401.00" y="24.66" font-size="4.6" text-anchor="middle" textLength="20.50" lengthAdjust="spacingAndGlyphs" fill="#555" stroke="#555" stroke-width="0.13" transform="rotate(-90 401.00 23.00)">Clostridia</text>
<text x="401.00" y="49.26" font-size="4.6" text-anchor="middle" textLength="12.50" lengthAdjust="spacingAndGlyphs" fill="#555" stroke="#555" stroke-width="0.13" transform="rotate(-90 401.00 47.60)">Bacilli</text>
<text x="401.00" y="78.86" font-size="4.6" text-anchor="middle" textLength="12.50" lengthAdjust="spacingAndGlyphs" fill="#555" stroke="#555" stroke-width="0.13" transform="rotate(-90 401.00 77.20)">Proteo</text>
<rect x="418.90" y="115.70" width="7.70" height="7.20" fill="#e0182c" />
<rect x="418.90" y="122.90" width="7.70" height="6.60" fill="#2c3c9a" />
<text x="453.10" y="121.88" font-size="6.6" text-anchor="middle" textLength="46.20" lengthAdjust="spacingAndGlyphs" fill="#333" stroke="#333" stroke-width="0.13">Non-responder</text>
<text x="446.15" y="129.18" font-size="6.6" text-anchor="middle" textLength="32.30" lengthAdjust="spacingAndGlyphs" fill="#333" stroke="#333" stroke-width="0.13">Responder</text>
<text x="1.00" y="153.30" font-size="11.8" font-weight="bold" fill="#000">B</text>
<line x1="40.50" y1="157.60" x2="40.50" y2="216.00" stroke="#1e1e1e" stroke-width="1.0"/>
<line x1="40.45" y1="216.50" x2="117.60" y2="216.50" stroke="#1e1e1e" stroke-width="1.0"/>
<line x1="40.50" y1="219.60" x2="40.50" y2="278.40" stroke="#1e1e1e" stroke-width="1.0"/>
<line x1="40.45" y1="278.50" x2="117.60" y2="278.50" stroke="#1e1e1e" stroke-width="1.0"/>
<line x1="121.50" y1="157.60" x2="121.50" y2="216.00" stroke="#1e1e1e" stroke-width="1.0"/>
<line x1="120.55" y1="216.50" x2="198.00" y2="216.50" stroke="#1e1e1e" stroke-width="1.0"/>
<line x1="121.50" y1="219.60" x2="121.50" y2="278.40" stroke="#1e1e1e" stroke-width="1.0"/>
<line x1="120.55" y1="278.50" x2="198.00" y2="278.50" stroke="#1e1e1e" stroke-width="1.0"/>
<line x1="38.20" y1="160.50" x2="40.90" y2="160.50" stroke="#555" stroke-width="0.9"/>
<text x="34.00" y="163.05" font-size="6.8" text-anchor="end" fill="#333" stroke="#333" stroke-width="0.13">2</text>
<line x1="38.20" y1="176.50" x2="40.90" y2="176.50" stroke="#555" stroke-width="0.9"/>
<text x="34.00" y="178.65" font-size="6.8" text-anchor="end" fill="#333" stroke="#333" stroke-width="0.13">1</text>
<line x1="38.20" y1="191.50" x2="40.90" y2="191.50" stroke="#555" stroke-width="0.9"/>
<text x="34.00" y="194.25" font-size="6.8" text-anchor="end" fill="#333" stroke="#333" stroke-width="0.13">0</text>
<line x1="38.20" y1="207.50" x2="40.90" y2="207.50" stroke="#555" stroke-width="0.9"/>
<text x="34.00" y="209.85" font-size="6.8" text-anchor="end" fill="#333" stroke="#333" stroke-width="0.13">−1</text>
<line x1="118.50" y1="160.50" x2="121.00" y2="160.50" stroke="#555" stroke-width="0.9"/>
<line x1="118.50" y1="176.50" x2="121.00" y2="176.50" stroke="#555" stroke-width="0.9"/>
<line x1="118.50" y1="191.50" x2="121.00" y2="191.50" stroke="#555" stroke-width="0.9"/>
<line x1="118.50" y1="207.50" x2="121.00" y2="207.50" stroke="#555" stroke-width="0.9"/>
<line x1="38.20" y1="223.50" x2="40.90" y2="223.50" stroke="#555" stroke-width="0.9"/>
<text x="34.00" y="225.75" font-size="6.8" text-anchor="end" fill="#333" stroke="#333" stroke-width="0.13">2</text>
<line x1="38.20" y1="238.50" x2="40.90" y2="238.50" stroke="#555" stroke-width="0.9"/>
<text x="34.00" y="241.05" font-size="6.8" text-anchor="end" fill="#333" stroke="#333" stroke-width="0.13">1</text>
<line x1="38.20" y1="253.50" x2="40.90" y2="253.50" stroke="#555" stroke-width="0.9"/>
<text x="34.00" y="256.35" font-size="6.8" text-anchor="end" fill="#333" stroke="#333" stroke-width="0.13">0</text>
<line x1="38.20" y1="269.50" x2="40.90" y2="269.50" stroke="#555" stroke-width="0.9"/>
<text x="34.00" y="271.75" font-size="6.8" text-anchor="end" fill="#333" stroke="#333" stroke-width="0.13">−1</text>
<line x1="118.50" y1="223.50" x2="121.00" y2="223.50" stroke="#555" stroke-width="0.9"/>
<line x1="118.50" y1="238.50" x2="121.00" y2="238.50" stroke="#555" stroke-width="0.9"/>
<line x1="118.50" y1="253.50" x2="121.00" y2="253.50" stroke="#555" stroke-width="0.9"/>
<line x1="118.50" y1="269.50" x2="121.00" y2="269.50" stroke="#555" stroke-width="0.9"/>
<line x1="52.50" y1="278.40" x2="52.50" y2="281.00" stroke="#555" stroke-width="0.9"/>
<text x="50.70" y="290.85" font-size="6.8" text-anchor="middle" fill="#333" stroke="#333" stroke-width="0.13">−1</text>
<line x1="67.50" y1="278.40" x2="67.50" y2="281.00" stroke="#555" stroke-width="0.9"/>
<text x="67.40" y="290.85" font-size="6.8" text-anchor="middle" fill="#333" stroke="#333" stroke-width="0.13">0</text>
<line x1="82.50" y1="278.40" x2="82.50" y2="281.00" stroke="#555" stroke-width="0.9"/>
<text x="82.80" y="290.85" font-size="6.8" text-anchor="middle" fill="#333" stroke="#333" stroke-width="0.13">1</text>
<line x1="98.50" y1="278.40" x2="98.50" y2="281.00" stroke="#555" stroke-width="0.9"/>
<text x="98.20" y="290.85" font-size="6.8" text-anchor="middle" fill="#333" stroke="#333" stroke-width="0.13">2</text>
<line x1="113.50" y1="278.40" x2="113.50" y2="281.00" stroke="#555" stroke-width="0.9"/>
<text x="113.60" y="290.85" font-size="6.8" text-anchor="middle" fill="#333" stroke="#333" stroke-width="0.13">3</text>
<line x1="132.50" y1="278.40" x2="132.50" y2="281.00" stroke="#555" stroke-width="0.9"/>
<text x="130.80" y="290.85" font-size="6.8" text-anchor="middle" fill="#333" stroke="#333" stroke-width="0.13">−1</text>
<line x1="147.50" y1="278.40" x2="147.50" y2="281.00" stroke="#555" stroke-width="0.9"/>
<text x="147.50" y="290.85" font-size="6.8" text-anchor="middle" fill="#333" stroke="#333" stroke-width="0.13">0</text>
<line x1="162.50" y1="278.40" x2="162.50" y2="281.00" stroke="#555" stroke-width="0.9"/>
<text x="162.90" y="290.85" font-size="6.8" text-anchor="middle" fill="#333" stroke="#333" stroke-width="0.13">1</text>
<line x1="178.50" y1="278.40" x2="178.50" y2="281.00" stroke="#555" stroke-width="0.9"/>
<text x="178.30" y="290.85" font-size="6.8" text-anchor="middle" fill="#333" stroke="#333" stroke-width="0.13">2</text>
<line x1="193.50" y1="278.40" x2="193.50" y2="281.00" stroke="#555" stroke-width="0.9"/>
<text x="193.70" y="290.85" font-size="6.8" text-anchor="middle" fill="#333" stroke="#333" stroke-width="0.13">3</text>
<text x="72.50" y="153.20" font-size="8.9" text-anchor="middle" textLength="33.00" lengthAdjust="spacingAndGlyphs" stroke="#2a2a2a" stroke-width="0.13">Baseline</text>
<text x="159.30" y="153.00" font-size="8.9" text-anchor="middle" textLength="60.60" lengthAdjust="spacingAndGlyphs" stroke="#2a2a2a" stroke-width="0.13">Post-treatment</text>
<text x="205.80" y="189.16" font-size="7.4" text-anchor="middle" textLength="51.00" lengthAdjust="spacingAndGlyphs" stroke="#2a2a2a" stroke-width="0.13" transform="rotate(90 205.80 186.50)">F-652 recipients</text>
<text x="206.00" y="251.66" font-size="7.4" text-anchor="middle" textLength="46.00" lengthAdjust="spacingAndGlyphs" stroke="#2a2a2a" stroke-width="0.13" transform="rotate(90 206.00 249.00)">Control cohort</text>
<text x="19.00" y="227.21" font-size="7.8" text-anchor="middle" textLength="34.40" lengthAdjust="spacingAndGlyphs" stroke="#2a2a2a" stroke-width="0.13" transform="rotate(-90 19.00 224.40)">PC2 [0.13]</text>
<text x="112.30" y="303.42" font-size="8.4" text-anchor="middle" textLength="33.40" lengthAdjust="spacingAndGlyphs" stroke="#2a2a2a" stroke-width="0.13">PC1 [0.55]</text>
<circle cx="44.10" cy="164.20" r="1.5" fill="#192f57"/>
<circle cx="44.40" cy="165.80" r="1.5" fill="#192f57"/>
<circle cx="46.60" cy="172.60" r="1.5" fill="#b3102e"/>
<circle cx="48.00" cy="173.40" r="1.5" fill="#b3102e"/>
<circle cx="48.70" cy="178.00" r="1.5" fill="#b3102e"/>
<circle cx="49.20" cy="194.80" r="1.5" fill="#192f57"/>
<circle cx="54.70" cy="194.00" r="1.5" fill="#192f57"/>
<circle cx="63.60" cy="201.40" r="1.5" fill="#b3102e"/>
<circle cx="78.40" cy="191.80" r="1.5" fill="#192f57"/>
<circle cx="82.20" cy="194.00" r="1.5" fill="#192f57"/>
<circle cx="84.00" cy="189.40" r="1.5" fill="#b3102e"/>
<circle cx="90.40" cy="197.00" r="1.5" fill="#192f57"/>
<circle cx="96.20" cy="201.20" r="1.5" fill="#192f57"/>
<circle cx="49.80" cy="210.60" r="1.5" fill="#192f57"/>
<circle cx="109.40" cy="189.00" r="1.5" fill="#b3102e"/>
<circle cx="111.00" cy="188.60" r="1.5" fill="#b3102e"/>
<circle cx="127.00" cy="173.40" r="1.5" fill="#b3102e"/>
<circle cx="131.00" cy="187.40" r="1.5" fill="#b3102e"/>
<circle cx="129.00" cy="195.00" r="1.5" fill="#192f57"/>
<circle cx="129.60" cy="201.00" r="1.5" fill="#192f57"/>
<circle cx="130.00" cy="207.00" r="1.5" fill="#192f57"/>
<circle cx="128.00" cy="210.60" r="1.5" fill="#192f57"/>
<circle cx="136.00" cy="193.00" r="1.5" fill="#192f57"/>
<circle cx="143.40" cy="193.40" r="1.5" fill="#192f57"/>
<circle cx="139.00" cy="198.20" r="1.5" fill="#192f57"/>
<circle cx="138.00" cy="213.60" r="1.5" fill="#192f57"/>
<circle cx="141.60" cy="213.60" r="1.5" fill="#192f57"/>
<circle cx="176.40" cy="189.60" r="1.5" fill="#b3102e"/>
<circle cx="184.60" cy="187.40" r="1.5" fill="#192f57"/>
<circle cx="184.60" cy="189.60" r="1.5" fill="#192f57"/>
<circle cx="191.00" cy="188.60" r="1.5" fill="#b3102e"/>
<circle cx="44.40" cy="224.60" r="1.5" fill="#192f57"/>
<circle cx="46.60" cy="245.60" r="1.5" fill="#192f57"/>
<circle cx="50.00" cy="245.60" r="1.5" fill="#192f57"/>
<circle cx="49.00" cy="251.60" r="1.5" fill="#192f57"/>
<circle cx="51.00" cy="252.60" r="1.5" fill="#b3102e"/>
<circle cx="53.00" cy="253.40" r="1.5" fill="#b3102e"/>
<circle cx="47.40" cy="256.60" r="1.5" fill="#192f57"/>
<circle cx="48.40" cy="258.40" r="1.5" fill="#192f57"/>
<circle cx="49.60" cy="269.00" r="1.5" fill="#192f57"/>
<circle cx="49.60" cy="273.40" r="1.5" fill="#b3102e"/>
<circle cx="50.80" cy="273.40" r="1.5" fill="#b3102e"/>
<circle cx="76.00" cy="259.00" r="1.5" fill="#b3102e"/>
<circle cx="77.60" cy="257.80" r="1.5" fill="#b3102e"/>
<circle cx="92.40" cy="251.00" r="1.5" fill="#b3102e"/>
<circle cx="93.60" cy="251.40" r="1.5" fill="#192f57"/>
<circle cx="101.00" cy="251.00" r="1.5" fill="#192f57"/>
<circle cx="103.60" cy="244.20" r="1.5" fill="#b3102e"/>
<circle cx="104.40" cy="257.00" r="1.5" fill="#b3102e"/>
<circle cx="111.00" cy="250.00" r="1.5" fill="#b3102e"/>
<circle cx="130.60" cy="245.00" r="1.5" fill="#b3102e"/>
<circle cx="130.60" cy="248.00" r="1.5" fill="#192f57"/>
<circle cx="135.60" cy="253.00" r="1.5" fill="#192f57"/>
<circle cx="139.60" cy="254.40" r="1.5" fill="#b3102e"/>
<circle cx="135.60" cy="256.60" r="1.5" fill="#b3102e"/>
<circle cx="128.00" cy="256.00" r="1.5" fill="#192f57"/>
<circle cx="128.60" cy="258.00" r="1.5" fill="#192f57"/>
<circle cx="130.00" cy="257.60" r="1.5" fill="#192f57"/>
<circle cx="146.60" cy="251.40" r="1.5" fill="#b3102e"/>
<circle cx="144.00" cy="259.40" r="1.5" fill="#b3102e"/>
<circle cx="157.00" cy="254.00" r="1.5" fill="#192f57"/>
<circle cx="164.00" cy="250.40" r="1.5" fill="#b3102e"/>
<circle cx="170.60" cy="250.40" r="1.5" fill="#192f57"/>
<circle cx="176.40" cy="251.40" r="1.5" fill="#b3102e"/>
<circle cx="177.00" cy="246.00" r="1.5" fill="#192f57"/>
<circle cx="188.40" cy="254.40" r="1.5" fill="#b3102e"/>
<circle cx="191.00" cy="250.00" r="1.5" fill="#b3102e"/>
<circle cx="135.60" cy="266.00" r="1.5" fill="#b3102e"/>
<circle cx="128.00" cy="269.00" r="1.5" fill="#192f57"/>
<circle cx="131.40" cy="270.00" r="1.5" fill="#192f57"/>
<circle cx="136.40" cy="270.40" r="1.5" fill="#192f57"/>
<circle cx="131.00" cy="274.00" r="1.5" fill="#b3102e"/>
<circle cx="132.60" cy="273.00" r="1.5" fill="#192f57"/>
<circle cx="168.60" cy="269.60" r="1.5" fill="#192f57"/>
<circle cx="137.6" cy="203" r="15" fill="none" stroke="#111" stroke-width="0.9"/>
<circle cx="156.00" cy="160.00" r="1.5" fill="#8a1530"/>
<text x="178.30" y="162.23" font-size="6.2" text-anchor="middle" textLength="38.60" lengthAdjust="spacingAndGlyphs" fill="#333" stroke="#333" stroke-width="0.13">Non-responder</text>
<circle cx="156.00" cy="167.40" r="1.5" fill="#192f57"/>
<text x="172.50" y="169.63" font-size="6.2" text-anchor="middle" textLength="27.00" lengthAdjust="spacingAndGlyphs" fill="#333" stroke="#333" stroke-width="0.13">Responder</text>
<text x="0.60" y="328.50" font-size="11.8" font-weight="bold" fill="#000">D</text>
<line x1="40.50" y1="343.60" x2="40.50" y2="402.00" stroke="#1e1e1e" stroke-width="1.0"/>
<line x1="40.45" y1="402.50" x2="117.60" y2="402.50" stroke="#1e1e1e" stroke-width="1.0"/>
<line x1="40.50" y1="405.60" x2="40.50" y2="464.40" stroke="#1e1e1e" stroke-width="1.0"/>
<line x1="40.45" y1="464.50" x2="117.60" y2="464.50" stroke="#1e1e1e" stroke-width="1.0"/>
<line x1="121.50" y1="343.60" x2="121.50" y2="402.00" stroke="#1e1e1e" stroke-width="1.0"/>
<line x1="120.55" y1="402.50" x2="198.00" y2="402.50" stroke="#1e1e1e" stroke-width="1.0"/>
<line x1="121.50" y1="405.60" x2="121.50" y2="464.40" stroke="#1e1e1e" stroke-width="1.0"/>
<line x1="120.55" y1="464.50" x2="198.00" y2="464.50" stroke="#1e1e1e" stroke-width="1.0"/>
<line x1="38.20" y1="346.50" x2="40.90" y2="346.50" stroke="#555" stroke-width="0.9"/>
<text x="34.00" y="349.05" font-size="6.8" text-anchor="end" fill="#333" stroke="#333" stroke-width="0.13">2</text>
<line x1="38.20" y1="362.50" x2="40.90" y2="362.50" stroke="#555" stroke-width="0.9"/>
<text x="34.00" y="364.65" font-size="6.8" text-anchor="end" fill="#333" stroke="#333" stroke-width="0.13">1</text>
<line x1="38.20" y1="377.50" x2="40.90" y2="377.50" stroke="#555" stroke-width="0.9"/>
<text x="34.00" y="380.25" font-size="6.8" text-anchor="end" fill="#333" stroke="#333" stroke-width="0.13">0</text>
<line x1="38.20" y1="393.50" x2="40.90" y2="393.50" stroke="#555" stroke-width="0.9"/>
<text x="34.00" y="395.85" font-size="6.8" text-anchor="end" fill="#333" stroke="#333" stroke-width="0.13">−1</text>
<line x1="118.50" y1="346.50" x2="121.00" y2="346.50" stroke="#555" stroke-width="0.9"/>
<line x1="118.50" y1="362.50" x2="121.00" y2="362.50" stroke="#555" stroke-width="0.9"/>
<line x1="118.50" y1="377.50" x2="121.00" y2="377.50" stroke="#555" stroke-width="0.9"/>
<line x1="118.50" y1="393.50" x2="121.00" y2="393.50" stroke="#555" stroke-width="0.9"/>
<line x1="38.20" y1="409.50" x2="40.90" y2="409.50" stroke="#555" stroke-width="0.9"/>
<text x="34.00" y="411.75" font-size="6.8" text-anchor="end" fill="#333" stroke="#333" stroke-width="0.13">2</text>
<line x1="38.20" y1="424.50" x2="40.90" y2="424.50" stroke="#555" stroke-width="0.9"/>
<text x="34.00" y="427.05" font-size="6.8" text-anchor="end" fill="#333" stroke="#333" stroke-width="0.13">1</text>
<line x1="38.20" y1="439.50" x2="40.90" y2="439.50" stroke="#555" stroke-width="0.9"/>
<text x="34.00" y="442.35" font-size="6.8" text-anchor="end" fill="#333" stroke="#333" stroke-width="0.13">0</text>
<line x1="38.20" y1="455.50" x2="40.90" y2="455.50" stroke="#555" stroke-width="0.9"/>
<text x="34.00" y="457.75" font-size="6.8" text-anchor="end" fill="#333" stroke="#333" stroke-width="0.13">−1</text>
<line x1="118.50" y1="409.50" x2="121.00" y2="409.50" stroke="#555" stroke-width="0.9"/>
<line x1="118.50" y1="424.50" x2="121.00" y2="424.50" stroke="#555" stroke-width="0.9"/>
<line x1="118.50" y1="439.50" x2="121.00" y2="439.50" stroke="#555" stroke-width="0.9"/>
<line x1="118.50" y1="455.50" x2="121.00" y2="455.50" stroke="#555" stroke-width="0.9"/>
<line x1="52.50" y1="464.40" x2="52.50" y2="467.00" stroke="#555" stroke-width="0.9"/>
<text x="50.70" y="476.85" font-size="6.8" text-anchor="middle" fill="#333" stroke="#333" stroke-width="0.13">−1</text>
<line x1="67.50" y1="464.40" x2="67.50" y2="467.00" stroke="#555" stroke-width="0.9"/>
<text x="67.40" y="476.85" font-size="6.8" text-anchor="middle" fill="#333" stroke="#333" stroke-width="0.13">0</text>
<line x1="82.50" y1="464.40" x2="82.50" y2="467.00" stroke="#555" stroke-width="0.9"/>
<text x="82.80" y="476.85" font-size="6.8" text-anchor="middle" fill="#333" stroke="#333" stroke-width="0.13">1</text>
<line x1="98.50" y1="464.40" x2="98.50" y2="467.00" stroke="#555" stroke-width="0.9"/>
<text x="98.20" y="476.85" font-size="6.8" text-anchor="middle" fill="#333" stroke="#333" stroke-width="0.13">2</text>
<line x1="113.50" y1="464.40" x2="113.50" y2="467.00" stroke="#555" stroke-width="0.9"/>
<text x="113.60" y="476.85" font-size="6.8" text-anchor="middle" fill="#333" stroke="#333" stroke-width="0.13">3</text>
<line x1="132.50" y1="464.40" x2="132.50" y2="467.00" stroke="#555" stroke-width="0.9"/>
<text x="130.80" y="476.85" font-size="6.8" text-anchor="middle" fill="#333" stroke="#333" stroke-width="0.13">−1</text>
<line x1="147.50" y1="464.40" x2="147.50" y2="467.00" stroke="#555" stroke-width="0.9"/>
<text x="147.50" y="476.85" font-size="6.8" text-anchor="middle" fill="#333" stroke="#333" stroke-width="0.13">0</text>
<line x1="162.50" y1="464.40" x2="162.50" y2="467.00" stroke="#555" stroke-width="0.9"/>
<text x="162.90" y="476.85" font-size="6.8" text-anchor="middle" fill="#333" stroke="#333" stroke-width="0.13">1</text>
<line x1="178.50" y1="464.40" x2="178.50" y2="467.00" stroke="#555" stroke-width="0.9"/>
<text x="178.30" y="476.85" font-size="6.8" text-anchor="middle" fill="#333" stroke="#333" stroke-width="0.13">2</text>
<line x1="193.50" y1="464.40" x2="193.50" y2="467.00" stroke="#555" stroke-width="0.9"/>
<text x="193.70" y="476.85" font-size="6.8" text-anchor="middle" fill="#333" stroke="#333" stroke-width="0.13">3</text>
<text x="72.50" y="339.20" font-size="8.9" text-anchor="middle" textLength="33.00" lengthAdjust="spacingAndGlyphs" stroke="#2a2a2a" stroke-width="0.13">Baseline</text>
<text x="159.30" y="339.00" font-size="8.9" text-anchor="middle" textLength="60.60" lengthAdjust="spacingAndGlyphs" stroke="#2a2a2a" stroke-width="0.13">Post-treatment</text>
<text x="205.80" y="375.16" font-size="7.4" text-anchor="middle" textLength="51.00" lengthAdjust="spacingAndGlyphs" stroke="#2a2a2a" stroke-width="0.13" transform="rotate(90 205.80 372.50)">F-652 recipients</text>
<text x="206.00" y="437.66" font-size="7.4" text-anchor="middle" textLength="46.00" lengthAdjust="spacingAndGlyphs" stroke="#2a2a2a" stroke-width="0.13" transform="rotate(90 206.00 435.00)">Control cohort</text>
<text x="19.00" y="413.21" font-size="7.8" text-anchor="middle" textLength="34.40" lengthAdjust="spacingAndGlyphs" stroke="#2a2a2a" stroke-width="0.13" transform="rotate(-90 19.00 410.40)">PC2 [0.13]</text>
<text x="112.30" y="489.42" font-size="8.4" text-anchor="middle" textLength="33.40" lengthAdjust="spacingAndGlyphs" stroke="#2a2a2a" stroke-width="0.13">PC1 [0.55]</text>
<path d="M44.10 348.45L45.85 351.60L42.35 351.60Z" fill="#cc1b2c"/>
<path d="M44.40 350.05L46.15 353.20L42.65 353.20Z" fill="#cc1b2c"/>
<circle cx="46.60" cy="358.60" r="1.45" fill="#cc1b2c"/>
<circle cx="48.00" cy="359.40" r="1.45" fill="#cc1b2c"/>
<circle cx="48.70" cy="364.00" r="1.45" fill="#cc1b2c"/>
<path d="M49.20 379.05L50.95 382.20L47.45 382.20Z" fill="#5a7ea8"/>
<path d="M54.70 378.25L56.45 381.40L52.95 381.40Z" fill="#cc1b2c"/>
<circle cx="63.60" cy="387.40" r="1.45" fill="#cc1b2c"/>
<path d="M78.40 376.05L80.15 379.20L76.65 379.20Z" fill="#cc1b2c"/>
<path d="M82.20 378.25L83.95 381.40L80.45 381.40Z" fill="#cc1b2c"/>
<circle cx="84.00" cy="375.40" r="1.45" fill="#cc1b2c"/>
<path d="M90.40 381.25L92.15 384.40L88.65 384.40Z" fill="#b8d2e6"/>
<path d="M96.20 385.45L97.95 388.60L94.45 388.60Z" fill="#cc1b2c"/>
<path d="M49.80 394.85L51.55 398.00L48.05 398.00Z" fill="#cc1b2c"/>
<circle cx="109.40" cy="375.00" r="1.45" fill="#cc1b2c"/>
<circle cx="111.00" cy="374.60" r="1.45" fill="#cc1b2c"/>
<circle cx="127.00" cy="359.40" r="1.45" fill="#cc1b2c"/>
<circle cx="131.00" cy="373.40" r="1.45" fill="#cc1b2c"/>
<path d="M129.00 379.25L130.75 382.40L127.25 382.40Z" fill="#4d78a8"/>
<path d="M129.60 385.25L131.35 388.40L127.85 388.40Z" fill="#6c5aa8"/>
<path d="M130.00 391.25L131.75 394.40L128.25 394.40Z" fill="#a8d8d8"/>
<path d="M128.00 394.85L129.75 398.00L126.25 398.00Z" fill="#f0b0c8"/>
<path d="M136.00 377.25L137.75 380.40L134.25 380.40Z" fill="#e0503a"/>
<path d="M143.40 377.65L145.15 380.80L141.65 380.80Z" fill="#6a62b0"/>
<path d="M139.00 382.45L140.75 385.60L137.25 385.60Z" fill="#8c80a8"/>
<path d="M138.00 397.85L139.75 401.00L136.25 401.00Z" fill="#cc1b2c"/>
<path d="M141.60 397.85L143.35 401.00L139.85 401.00Z" fill="#cc1b2c"/>
<circle cx="176.40" cy="375.60" r="1.45" fill="#cc1b2c"/>
<path d="M184.60 371.65L186.35 374.80L182.85 374.80Z" fill="#cc1b2c"/>
<path d="M184.60 373.85L186.35 377.00L182.85 377.00Z" fill="#cc1b2c"/>
<circle cx="191.00" cy="374.60" r="1.45" fill="#cc1b2c"/>
<path d="M44.40 408.85L46.15 412.00L42.65 412.00Z" fill="#cc1b2c"/>
<path d="M46.60 429.85L48.35 433.00L44.85 433.00Z" fill="#2a3a78"/>
<path d="M50.00 429.85L51.75 433.00L48.25 433.00Z" fill="#cc1b2c"/>
<path d="M49.00 435.85L50.75 439.00L47.25 439.00Z" fill="#cc1b2c"/>
<circle cx="51.00" cy="438.60" r="1.45" fill="#cc1b2c"/>
<circle cx="53.00" cy="439.40" r="1.45" fill="#cc1b2c"/>
<path d="M47.40 440.85L49.15 444.00L45.65 444.00Z" fill="#7890b0"/>
<path d="M48.40 442.65L50.15 445.80L46.65 445.80Z" fill="#8898c0"/>
<path d="M49.60 453.25L51.35 456.40L47.85 456.40Z" fill="#8a90b0"/>
<circle cx="49.60" cy="459.40" r="1.45" fill="#cc1b2c"/>
<circle cx="50.80" cy="459.40" r="1.45" fill="#cc1b2c"/>
<circle cx="76.00" cy="445.00" r="1.45" fill="#d8b0b0"/>
<circle cx="77.60" cy="443.80" r="1.45" fill="#d0a8b0"/>
<circle cx="92.40" cy="437.00" r="1.45" fill="#cc1b2c"/>
<path d="M93.60 435.65L95.35 438.80L91.85 438.80Z" fill="#cc1b2c"/>
<path d="M101.00 435.25L102.75 438.40L99.25 438.40Z" fill="#cc1b2c"/>
<circle cx="103.60" cy="430.20" r="1.45" fill="#cc1b2c"/>
<circle cx="104.40" cy="443.00" r="1.45" fill="#cc1b2c"/>
<circle cx="111.00" cy="436.00" r="1.45" fill="#cc1b2c"/>
<circle cx="130.60" cy="431.00" r="1.45" fill="#f0a8b0"/>
<path d="M130.60 432.25L132.35 435.40L128.85 435.40Z" fill="#cc1b2c"/>
<path d="M135.60 437.25L137.35 440.40L133.85 440.40Z" fill="#cc1b2c"/>
<circle cx="139.60" cy="440.40" r="1.45" fill="#cc1b2c"/>
<circle cx="135.60" cy="442.60" r="1.45" fill="#cc1b2c"/>
<path d="M128.00 440.25L129.75 443.40L126.25 443.40Z" fill="#2e4e8a"/>
<path d="M128.60 442.25L130.35 445.40L126.85 445.40Z" fill="#3a5a9a"/>
<path d="M130.00 441.85L131.75 445.00L128.25 445.00Z" fill="#cc1b2c"/>
<circle cx="146.60" cy="437.40" r="1.45" fill="#cc1b2c"/>
<circle cx="144.00" cy="445.40" r="1.45" fill="#e88080"/>
<path d="M157.00 438.25L158.75 441.40L155.25 441.40Z" fill="#f0b8c0"/>
<circle cx="164.00" cy="436.40" r="1.45" fill="#cc1b2c"/>
<path d="M170.60 434.65L172.35 437.80L168.85 437.80Z" fill="#cc1b2c"/>
<circle cx="176.40" cy="437.40" r="1.45" fill="#cc1b2c"/>
<path d="M177.00 430.25L178.75 433.40L175.25 433.40Z" fill="#cc1b2c"/>
<circle cx="188.40" cy="440.40" r="1.45" fill="#cc1b2c"/>
<circle cx="191.00" cy="436.00" r="1.45" fill="#cc1b2c"/>
<circle cx="135.60" cy="452.00" r="1.45" fill="#f0c0c0"/>
<path d="M128.00 453.25L129.75 456.40L126.25 456.40Z" fill="#cc1b2c"/>
<path d="M131.40 454.25L133.15 457.40L129.65 457.40Z" fill="#cc1b2c"/>
<path d="M136.40 454.65L138.15 457.80L134.65 457.80Z" fill="#cc1b2c"/>
<circle cx="131.00" cy="460.00" r="1.45" fill="#cc1b2c"/>
<path d="M132.60 457.25L134.35 460.40L130.85 460.40Z" fill="#cc1b2c"/>
<path d="M168.60 453.85L170.35 457.00L166.85 457.00Z" fill="#cc1b2c"/>
<circle cx="155.80" cy="408.90" r="1.5" fill="#111"/>
<text x="178.25" y="411.13" font-size="6.2" text-anchor="middle" textLength="38.90" lengthAdjust="spacingAndGlyphs" fill="#333" stroke="#333" stroke-width="0.13">Non-responder</text>
<path d="M155.80 414.30L157.70 417.72L153.90 417.72Z" fill="#111"/>
<text x="172.40" y="418.13" font-size="6.2" text-anchor="middle" textLength="27.20" lengthAdjust="spacingAndGlyphs" fill="#333" stroke="#333" stroke-width="0.13">Responder</text>
<defs><linearGradient id="cb" x1="0" x2="1" y1="0" y2="0"><stop offset="0" stop-color="#dc1e20"/><stop offset="0.28" stop-color="#e8a090"/><stop offset="0.42" stop-color="#c8cce0"/><stop offset="0.62" stop-color="#8878c0"/><stop offset="0.85" stop-color="#4232a0"/><stop offset="1" stop-color="#3c2c98"/></linearGradient></defs>
<rect x="15.20" y="483.80" width="41.80" height="7.80" fill="url(#cb)" />
<text x="18.35" y="498.52" font-size="7.0" text-anchor="middle" textLength="8.70" lengthAdjust="spacingAndGlyphs" fill="#444" stroke="#444" stroke-width="0.13">0.0</text>
<text x="30.50" y="498.52" font-size="7.0" text-anchor="middle" textLength="8.60" lengthAdjust="spacingAndGlyphs" fill="#444" stroke="#444" stroke-width="0.13">0.2</text>
<text x="43.05" y="498.52" font-size="7.0" text-anchor="middle" textLength="8.90" lengthAdjust="spacingAndGlyphs" fill="#444" stroke="#444" stroke-width="0.13">0.4</text>
<text x="55.60" y="498.52" font-size="7.0" text-anchor="middle" textLength="9.20" lengthAdjust="spacingAndGlyphs" fill="#444" stroke="#444" stroke-width="0.13">0.6</text>
<text x="112.25" y="499.55" font-size="8.2" text-anchor="middle" textLength="89.50" lengthAdjust="spacingAndGlyphs" fill="#333" stroke="#333" stroke-width="0.13">Lachnospiraceae abundance</text>
<text x="234.90" y="153.50" font-size="11.8" font-weight="bold" fill="#000">C</text>
<text x="340.38" y="152.70" font-size="8.9" text-anchor="middle" textLength="33.25" lengthAdjust="spacingAndGlyphs" stroke="#2a2a2a" stroke-width="0.13">Baseline</text>
<text x="465.25" y="152.70" font-size="8.9" text-anchor="middle" textLength="60.50" lengthAdjust="spacingAndGlyphs" stroke="#2a2a2a" stroke-width="0.13">Post-treatment</text>
<text x="263.30" y="222.44" font-size="7.6" text-anchor="middle" textLength="11.80" lengthAdjust="spacingAndGlyphs" stroke="#2a2a2a" stroke-width="0.13" transform="rotate(-90 263.30 219.70)">PC2</text>
<line x1="285.50" y1="162.50" x2="285.50" y2="278.30" stroke="#1e1e1e" stroke-width="1.0"/>
<line x1="284.55" y1="278.50" x2="395.00" y2="278.50" stroke="#1e1e1e" stroke-width="1.0"/>
<line x1="410.50" y1="162.00" x2="410.50" y2="278.30" stroke="#1e1e1e" stroke-width="1.0"/>
<line x1="410.05" y1="278.50" x2="520.00" y2="278.50" stroke="#1e1e1e" stroke-width="1.0"/>
<line x1="282.30" y1="164.50" x2="285.00" y2="164.50" stroke="#555" stroke-width="0.9"/>
<text x="279.20" y="166.78" font-size="6.6" text-anchor="end" fill="#333" stroke="#333" stroke-width="0.13">2</text>
<line x1="282.30" y1="196.50" x2="285.00" y2="196.50" stroke="#555" stroke-width="0.9"/>
<text x="279.20" y="198.58" font-size="6.6" text-anchor="end" fill="#333" stroke="#333" stroke-width="0.13">1</text>
<line x1="282.30" y1="228.50" x2="285.00" y2="228.50" stroke="#555" stroke-width="0.9"/>
<text x="279.20" y="230.38" font-size="6.6" text-anchor="end" fill="#333" stroke="#333" stroke-width="0.13">0</text>
<line x1="282.30" y1="259.50" x2="285.00" y2="259.50" stroke="#555" stroke-width="0.9"/>
<text x="279.20" y="262.18" font-size="6.6" text-anchor="end" fill="#333" stroke="#333" stroke-width="0.13">−1</text>
<line x1="310.50" y1="278.00" x2="310.50" y2="280.80" stroke="#555" stroke-width="0.9"/>
<line x1="370.50" y1="278.00" x2="370.50" y2="280.80" stroke="#555" stroke-width="0.9"/>
<line x1="436.50" y1="278.00" x2="436.50" y2="280.80" stroke="#555" stroke-width="0.9"/>
<line x1="495.50" y1="278.00" x2="495.50" y2="280.80" stroke="#555" stroke-width="0.9"/>
<text x="310.50" y="290.58" font-size="6.6" text-anchor="middle" textLength="49.00" lengthAdjust="spacingAndGlyphs" stroke="#2a2a2a" stroke-width="0.13">F-652 recipients</text>
<text x="370.50" y="290.58" font-size="6.6" text-anchor="middle" textLength="45.00" lengthAdjust="spacingAndGlyphs" stroke="#2a2a2a" stroke-width="0.13">Control cohort</text>
<text x="435.88" y="290.58" font-size="6.6" text-anchor="middle" textLength="49.25" lengthAdjust="spacingAndGlyphs" stroke="#2a2a2a" stroke-width="0.13">F-652 recipients</text>
<text x="495.62" y="290.58" font-size="6.6" text-anchor="middle" textLength="44.75" lengthAdjust="spacingAndGlyphs" stroke="#2a2a2a" stroke-width="0.13">Control cohort</text>
<text x="302.50" y="183.62" font-size="5.2" fill="#444" textLength="17.50" lengthAdjust="spacingAndGlyphs"><tspan font-style="italic">P</tspan> = .58</text>
<text x="361.25" y="183.62" font-size="5.2" fill="#444" textLength="18.25" lengthAdjust="spacingAndGlyphs"><tspan font-style="italic">P</tspan> = .55</text>
<text x="426.25" y="183.62" font-size="5.2" fill="#444" textLength="20.75" lengthAdjust="spacingAndGlyphs"><tspan font-style="italic">P</tspan> = .004</text>
<text x="487.00" y="183.62" font-size="5.2" fill="#444" textLength="17.50" lengthAdjust="spacingAndGlyphs"><tspan font-style="italic">P</tspan> = .03</text>
<rect x="289.50" y="192.00" width="20.50" height="31.00" fill="#e38c81" />
<line x1="299.50" y1="190.00" x2="299.50" y2="192.00" stroke="#d0283f" stroke-width="1.05"/>
<line x1="299.50" y1="223.00" x2="299.50" y2="248.75" stroke="#d0283f" stroke-width="1.05"/>
<line x1="299.50" y1="192.00" x2="299.50" y2="223.00" stroke="#d0283f" stroke-width="1" stroke-opacity="0.18"/>
<line x1="289.50" y1="200.50" x2="310.00" y2="200.50" stroke="#c8102e" stroke-width="2.1"/>
<rect x="312.00" y="205.00" width="20.00" height="29.50" fill="#8e99c0" />
<line x1="322.50" y1="170.00" x2="322.50" y2="205.00" stroke="#24508f" stroke-width="1.05"/>
<line x1="322.50" y1="234.50" x2="322.50" y2="266.25" stroke="#24508f" stroke-width="1.05"/>
<line x1="322.50" y1="205.00" x2="322.50" y2="234.50" stroke="#24508f" stroke-width="1" stroke-opacity="0.18"/>
<line x1="312.00" y1="228.00" x2="332.00" y2="228.00" stroke="#1b3f7b" stroke-width="2.1"/>
<rect x="349.50" y="223.75" width="19.50" height="12.00" fill="#e38c81" />
<line x1="359.50" y1="209.50" x2="359.50" y2="223.75" stroke="#d0283f" stroke-width="1.05"/>
<line x1="359.50" y1="235.75" x2="359.50" y2="236.00" stroke="#d0283f" stroke-width="1.05"/>
<line x1="359.50" y1="223.75" x2="359.50" y2="235.75" stroke="#d0283f" stroke-width="1" stroke-opacity="0.18"/>
<line x1="349.50" y1="227.00" x2="369.00" y2="227.00" stroke="#c8102e" stroke-width="2.1"/>
<rect x="372.00" y="217.00" width="19.50" height="18.75" fill="#8e99c0" />
<line x1="381.50" y1="212.50" x2="381.50" y2="217.00" stroke="#24508f" stroke-width="1.05"/>
<line x1="381.50" y1="235.75" x2="381.50" y2="260.75" stroke="#24508f" stroke-width="1.05"/>
<line x1="381.50" y1="217.00" x2="381.50" y2="235.75" stroke="#24508f" stroke-width="1" stroke-opacity="0.18"/>
<line x1="372.00" y1="223.75" x2="391.50" y2="223.75" stroke="#1b3f7b" stroke-width="2.1"/>
<rect x="415.75" y="218.40" width="19.75" height="2.60" fill="#e38c81" />
<line x1="415.75" y1="219.60" x2="435.50" y2="219.60" stroke="#c8102e" stroke-width="2.1"/>
<rect x="438.00" y="231.75" width="19.50" height="27.00" fill="#8e99c0" />
<line x1="448.50" y1="218.00" x2="448.50" y2="231.75" stroke="#24508f" stroke-width="1.05"/>
<line x1="448.50" y1="258.75" x2="448.50" y2="273.00" stroke="#24508f" stroke-width="1.05"/>
<line x1="448.50" y1="231.75" x2="448.50" y2="258.75" stroke="#24508f" stroke-width="1" stroke-opacity="0.18"/>
<line x1="438.00" y1="235.50" x2="457.50" y2="235.50" stroke="#1b3f7b" stroke-width="2.1"/>
<rect x="475.00" y="222.50" width="19.50" height="13.75" fill="#e38c81" />
<line x1="485.50" y1="211.25" x2="485.50" y2="222.50" stroke="#d0283f" stroke-width="1.05"/>
<line x1="485.50" y1="236.25" x2="485.50" y2="254.50" stroke="#d0283f" stroke-width="1.05"/>
<line x1="485.50" y1="222.50" x2="485.50" y2="236.25" stroke="#d0283f" stroke-width="1" stroke-opacity="0.18"/>
<line x1="475.00" y1="227.50" x2="494.50" y2="227.50" stroke="#c8102e" stroke-width="2.1"/>
<rect x="497.00" y="226.25" width="20.00" height="35.75" fill="#8e99c0" />
<line x1="506.50" y1="213.25" x2="506.50" y2="226.25" stroke="#24508f" stroke-width="1.05"/>
<line x1="506.50" y1="262.00" x2="506.50" y2="272.00" stroke="#24508f" stroke-width="1.05"/>
<line x1="506.50" y1="226.25" x2="506.50" y2="262.00" stroke="#24508f" stroke-width="1" stroke-opacity="0.18"/>
<line x1="497.00" y1="237.00" x2="517.00" y2="237.00" stroke="#1b3f7b" stroke-width="2.1"/>
<circle cx="298.75" cy="190.00" r="1.4" fill="#b3102e"/>
<circle cx="300.50" cy="192.00" r="1.4" fill="#b3102e"/>
<circle cx="297.00" cy="248.75" r="1.4" fill="#b3102e"/>
<circle cx="303.75" cy="223.00" r="1.4" fill="#b3102e"/>
<circle cx="305.75" cy="222.00" r="1.4" fill="#b3102e"/>
<circle cx="315.00" cy="173.00" r="1.4" fill="#192f57"/>
<circle cx="317.50" cy="175.50" r="1.4" fill="#192f57"/>
<circle cx="325.50" cy="170.00" r="1.4" fill="#192f57"/>
<circle cx="318.25" cy="188.00" r="1.4" fill="#192f57"/>
<circle cx="323.00" cy="221.25" r="1.4" fill="#192f57"/>
<circle cx="328.75" cy="221.25" r="1.4" fill="#192f57"/>
<circle cx="317.50" cy="231.25" r="1.4" fill="#192f57"/>
<circle cx="319.50" cy="235.00" r="1.4" fill="#192f57"/>
<circle cx="316.25" cy="239.50" r="1.4" fill="#192f57"/>
<circle cx="318.00" cy="247.50" r="1.4" fill="#192f57"/>
<circle cx="329.25" cy="266.75" r="1.4" fill="#192f57"/>
<circle cx="362.50" cy="169.50" r="1.4" fill="#b3102e"/>
<circle cx="362.50" cy="209.50" r="1.4" fill="#b3102e"/>
<circle cx="352.50" cy="240.00" r="1.4" fill="#b3102e"/>
<circle cx="359.50" cy="238.75" r="1.4" fill="#b3102e"/>
<circle cx="365.75" cy="237.50" r="1.4" fill="#b3102e"/>
<circle cx="353.25" cy="268.75" r="1.4" fill="#b3102e"/>
<circle cx="357.50" cy="225.00" r="1.4" fill="#b3102e"/>
<circle cx="360.50" cy="225.50" r="1.4" fill="#b3102e"/>
<circle cx="378.75" cy="169.50" r="1.4" fill="#192f57"/>
<circle cx="388.00" cy="170.00" r="1.4" fill="#192f57"/>
<circle cx="381.75" cy="213.00" r="1.4" fill="#192f57"/>
<circle cx="385.75" cy="222.00" r="1.4" fill="#192f57"/>
<circle cx="388.75" cy="228.00" r="1.4" fill="#192f57"/>
<circle cx="380.00" cy="233.75" r="1.4" fill="#192f57"/>
<circle cx="381.25" cy="238.75" r="1.4" fill="#192f57"/>
<circle cx="385.75" cy="238.25" r="1.4" fill="#192f57"/>
<circle cx="376.25" cy="261.25" r="1.4" fill="#192f57"/>
<circle cx="387.00" cy="270.00" r="1.4" fill="#192f57"/>
<circle cx="426.25" cy="191.25" r="1.4" fill="#b3102e"/>
<circle cx="418.75" cy="224.25" r="1.4" fill="#b3102e"/>
<circle cx="425.00" cy="223.00" r="1.4" fill="#b3102e"/>
<circle cx="454.50" cy="217.50" r="1.4" fill="#192f57"/>
<circle cx="451.25" cy="223.00" r="1.4" fill="#192f57"/>
<circle cx="447.00" cy="231.25" r="1.4" fill="#192f57"/>
<circle cx="443.00" cy="241.25" r="1.4" fill="#192f57"/>
<circle cx="452.00" cy="247.00" r="1.4" fill="#192f57"/>
<circle cx="443.00" cy="267.00" r="1.4" fill="#192f57"/>
<circle cx="447.00" cy="272.50" r="1.4" fill="#192f57"/>
<circle cx="450.75" cy="272.50" r="1.4" fill="#192f57"/>
<circle cx="485.50" cy="212.00" r="1.4" fill="#b3102e"/>
<circle cx="485.00" cy="221.25" r="1.4" fill="#b3102e"/>
<circle cx="483.00" cy="227.50" r="1.4" fill="#b3102e"/>
<circle cx="488.75" cy="229.50" r="1.4" fill="#b3102e"/>
<circle cx="492.50" cy="228.00" r="1.4" fill="#b3102e"/>
<circle cx="480.00" cy="227.50" r="1.4" fill="#b3102e"/>
<circle cx="487.50" cy="241.25" r="1.4" fill="#b3102e"/>
<circle cx="491.25" cy="254.50" r="1.4" fill="#b3102e"/>
<circle cx="488.75" cy="267.50" r="1.4" fill="#b3102e"/>
<circle cx="506.25" cy="213.25" r="1.4" fill="#192f57"/>
<circle cx="503.75" cy="217.50" r="1.4" fill="#192f57"/>
<circle cx="501.25" cy="223.75" r="1.4" fill="#192f57"/>
<circle cx="505.00" cy="229.50" r="1.4" fill="#192f57"/>
<circle cx="499.50" cy="236.25" r="1.4" fill="#192f57"/>
<circle cx="502.00" cy="236.00" r="1.4" fill="#192f57"/>
<circle cx="505.00" cy="237.50" r="1.4" fill="#192f57"/>
<circle cx="503.00" cy="262.50" r="1.4" fill="#192f57"/>
<circle cx="506.25" cy="261.25" r="1.4" fill="#192f57"/>
<circle cx="509.50" cy="260.00" r="1.4" fill="#192f57"/>
<circle cx="504.50" cy="271.25" r="1.4" fill="#192f57"/>
<text x="235.00" y="328.50" font-size="11.8" font-weight="bold" fill="#000">E</text>
<text x="340.00" y="338.20" font-size="8.9" text-anchor="middle" textLength="65.00" lengthAdjust="spacingAndGlyphs" stroke="#2a2a2a" stroke-width="0.13">F-652 recipients</text>
<text x="465.38" y="338.20" font-size="8.9" text-anchor="middle" textLength="59.25" lengthAdjust="spacingAndGlyphs" stroke="#2a2a2a" stroke-width="0.13">Control cohort</text>
<text x="251.10" y="409.08" font-size="8.0" text-anchor="middle" textLength="127.50" lengthAdjust="spacingAndGlyphs" stroke="#2a2a2a" stroke-width="0.13" transform="rotate(-90 251.10 406.20)">Fold-change lachnospiraceae abundance</text>
<line x1="285.50" y1="348.75" x2="285.50" y2="464.80" stroke="#1e1e1e" stroke-width="1.0"/>
<line x1="284.55" y1="464.50" x2="394.25" y2="464.50" stroke="#1e1e1e" stroke-width="1.0"/>
<line x1="410.50" y1="348.75" x2="410.50" y2="464.80" stroke="#1e1e1e" stroke-width="1.0"/>
<line x1="410.05" y1="464.50" x2="519.50" y2="464.50" stroke="#1e1e1e" stroke-width="1.0"/>
<line x1="282.30" y1="350.50" x2="285.00" y2="350.50" stroke="#555" stroke-width="0.9"/>
<text x="269.12" y="352.80" font-size="6.4" text-anchor="middle" textLength="19.25" lengthAdjust="spacingAndGlyphs" fill="#333" stroke="#333" stroke-width="0.13">1e+04</text>
<line x1="282.30" y1="382.50" x2="285.00" y2="382.50" stroke="#555" stroke-width="0.9"/>
<text x="269.12" y="384.70" font-size="6.4" text-anchor="middle" textLength="19.25" lengthAdjust="spacingAndGlyphs" fill="#333" stroke="#333" stroke-width="0.13">1e+02</text>
<line x1="282.30" y1="414.50" x2="285.00" y2="414.50" stroke="#555" stroke-width="0.9"/>
<text x="269.12" y="416.70" font-size="6.4" text-anchor="middle" textLength="19.25" lengthAdjust="spacingAndGlyphs" fill="#333" stroke="#333" stroke-width="0.13">1e+00</text>
<line x1="282.30" y1="446.50" x2="285.00" y2="446.50" stroke="#555" stroke-width="0.9"/>
<text x="269.12" y="448.60" font-size="6.4" text-anchor="middle" textLength="19.25" lengthAdjust="spacingAndGlyphs" fill="#333" stroke="#333" stroke-width="0.13">1e−02</text>
<line x1="311.50" y1="464.50" x2="311.50" y2="467.30" stroke="#555" stroke-width="0.9"/>
<line x1="370.50" y1="464.50" x2="370.50" y2="467.30" stroke="#555" stroke-width="0.9"/>
<line x1="436.50" y1="464.50" x2="436.50" y2="467.30" stroke="#555" stroke-width="0.9"/>
<line x1="495.50" y1="464.50" x2="495.50" y2="467.30" stroke="#555" stroke-width="0.9"/>
<text x="310.62" y="476.98" font-size="6.6" text-anchor="middle" textLength="48.75" lengthAdjust="spacingAndGlyphs" stroke="#2a2a2a" stroke-width="0.13">Non-responders</text>
<text x="370.62" y="476.98" font-size="6.6" text-anchor="middle" textLength="36.25" lengthAdjust="spacingAndGlyphs" stroke="#2a2a2a" stroke-width="0.13">Responders</text>
<text x="436.25" y="476.98" font-size="6.6" text-anchor="middle" textLength="48.50" lengthAdjust="spacingAndGlyphs" stroke="#2a2a2a" stroke-width="0.13">Non-responders</text>
<text x="495.88" y="476.98" font-size="6.6" text-anchor="middle" textLength="35.75" lengthAdjust="spacingAndGlyphs" stroke="#2a2a2a" stroke-width="0.13">Responders</text>
<text x="330.00" y="353.12" font-size="5.2" fill="#444" textLength="21.25" lengthAdjust="spacingAndGlyphs"><tspan font-style="italic">P</tspan> = .026</text>
<text x="457.00" y="353.12" font-size="5.2" fill="#444" textLength="18.00" lengthAdjust="spacingAndGlyphs"><tspan font-style="italic">P</tspan> = .83</text>
<rect x="290.00" y="418.00" width="42.00" height="10.70" fill="#e38c81" />
<line x1="290.00" y1="418.60" x2="332.00" y2="418.60" stroke="#c8102e" stroke-width="2.1"/>
<circle cx="312.90" cy="391.30" r="1.4" fill="#b3102e"/>
<circle cx="309.60" cy="429.50" r="1.4" fill="#b3102e"/>
<circle cx="314.00" cy="446.10" r="1.4" fill="#b3102e"/>
<rect x="348.75" y="378.00" width="43.00" height="37.75" fill="#8e99c0" />
<line x1="370.50" y1="358.00" x2="370.50" y2="378.00" stroke="#24508f" stroke-width="1.05"/>
<line x1="370.50" y1="415.75" x2="370.50" y2="432.00" stroke="#24508f" stroke-width="1.05"/>
<line x1="370.50" y1="378.00" x2="370.50" y2="415.75" stroke="#24508f" stroke-width="1" stroke-opacity="0.18"/>
<line x1="348.75" y1="384.50" x2="391.75" y2="384.50" stroke="#1b3f7b" stroke-width="2.1"/>
<circle cx="371.75" cy="358.00" r="1.4" fill="#192f57"/>
<circle cx="370.75" cy="373.75" r="1.4" fill="#192f57"/>
<circle cx="372.00" cy="373.75" r="1.4" fill="#192f57"/>
<circle cx="375.50" cy="377.50" r="1.4" fill="#192f57"/>
<circle cx="370.00" cy="380.00" r="1.4" fill="#192f57"/>
<circle cx="374.50" cy="388.75" r="1.4" fill="#192f57"/>
<circle cx="367.50" cy="392.50" r="1.4" fill="#192f57"/>
<circle cx="368.75" cy="416.25" r="1.4" fill="#192f57"/>
<circle cx="369.50" cy="419.50" r="1.4" fill="#192f57"/>
<circle cx="375.50" cy="432.50" r="1.4" fill="#192f57"/>
<rect x="415.50" y="404.25" width="42.50" height="32.00" fill="#e38c81" />
<line x1="436.50" y1="375.50" x2="436.50" y2="404.25" stroke="#d0283f" stroke-width="1.05"/>
<line x1="436.50" y1="436.25" x2="436.50" y2="459.50" stroke="#d0283f" stroke-width="1.05"/>
<line x1="436.50" y1="404.25" x2="436.50" y2="436.25" stroke="#d0283f" stroke-width="1" stroke-opacity="0.18"/>
<line x1="415.50" y1="410.75" x2="458.00" y2="410.75" stroke="#c8102e" stroke-width="2.1"/>
<circle cx="439.50" cy="375.50" r="1.4" fill="#b3102e"/>
<circle cx="441.25" cy="388.25" r="1.4" fill="#b3102e"/>
<circle cx="435.50" cy="402.00" r="1.4" fill="#b3102e"/>
<circle cx="440.00" cy="404.25" r="1.4" fill="#b3102e"/>
<circle cx="437.50" cy="408.00" r="1.4" fill="#b3102e"/>
<circle cx="436.25" cy="415.00" r="1.4" fill="#b3102e"/>
<circle cx="435.50" cy="433.00" r="1.4" fill="#b3102e"/>
<circle cx="434.50" cy="447.00" r="1.4" fill="#b3102e"/>
<circle cx="441.25" cy="447.00" r="1.4" fill="#b3102e"/>
<circle cx="434.50" cy="459.25" r="1.4" fill="#b3102e"/>
<rect x="473.75" y="405.00" width="42.50" height="17.00" fill="#8e99c0" />
<line x1="495.50" y1="390.50" x2="495.50" y2="405.00" stroke="#24508f" stroke-width="1.05"/>
<line x1="495.50" y1="422.00" x2="495.50" y2="440.50" stroke="#24508f" stroke-width="1.05"/>
<line x1="495.50" y1="405.00" x2="495.50" y2="422.00" stroke="#24508f" stroke-width="1" stroke-opacity="0.18"/>
<line x1="473.75" y1="413.75" x2="516.25" y2="413.75" stroke="#1b3f7b" stroke-width="2.1"/>
<circle cx="495.00" cy="370.00" r="1.4" fill="#192f57"/>
<circle cx="501.25" cy="372.50" r="1.4" fill="#192f57"/>
<circle cx="498.00" cy="390.50" r="1.4" fill="#192f57"/>
<circle cx="498.00" cy="404.25" r="1.4" fill="#192f57"/>
<circle cx="498.75" cy="405.50" r="1.4" fill="#192f57"/>
<circle cx="492.00" cy="407.50" r="1.4" fill="#192f57"/>
<circle cx="492.00" cy="412.00" r="1.4" fill="#192f57"/>
<circle cx="497.00" cy="415.50" r="1.4" fill="#192f57"/>
<circle cx="493.75" cy="418.75" r="1.4" fill="#192f57"/>
<circle cx="500.00" cy="424.50" r="1.4" fill="#192f57"/>
<circle cx="501.25" cy="435.00" r="1.4" fill="#192f57"/>
<circle cx="497.50" cy="437.00" r="1.4" fill="#192f57"/>
<circle cx="494.50" cy="440.50" r="1.4" fill="#192f57"/>
<text x="0.50" y="525.50" font-size="11.8" font-weight="bold" fill="#000">F</text>
<text x="95.50" y="539.70" font-size="8.9" text-anchor="middle" textLength="65.00" lengthAdjust="spacingAndGlyphs" stroke="#2a2a2a" stroke-width="0.13">F-652 recipients</text>
<text x="220.70" y="539.70" font-size="8.9" text-anchor="middle" textLength="59.20" lengthAdjust="spacingAndGlyphs" stroke="#2a2a2a" stroke-width="0.13">Control cohort</text>
<text x="6.00" y="607.56" font-size="8.5" text-anchor="middle" textLength="99.00" lengthAdjust="spacingAndGlyphs" stroke="#2a2a2a" stroke-width="0.13" transform="rotate(-90 6.00 604.50)">Fold-change Blautia abundance</text>
<line x1="40.50" y1="548.00" x2="40.50" y2="661.60" stroke="#1e1e1e" stroke-width="1.0"/>
<line x1="40.25" y1="661.50" x2="149.70" y2="661.50" stroke="#1e1e1e" stroke-width="1.0"/>
<line x1="166.50" y1="545.50" x2="166.50" y2="661.60" stroke="#1e1e1e" stroke-width="1.0"/>
<line x1="165.75" y1="661.50" x2="275.50" y2="661.50" stroke="#1e1e1e" stroke-width="1.0"/>
<line x1="38.00" y1="550.50" x2="40.70" y2="550.50" stroke="#555" stroke-width="0.9"/>
<text x="24.85" y="553.00" font-size="6.4" text-anchor="middle" textLength="19.70" lengthAdjust="spacingAndGlyphs" fill="#333" stroke="#333" stroke-width="0.13">1e+03</text>
<line x1="38.00" y1="588.50" x2="40.70" y2="588.50" stroke="#555" stroke-width="0.9"/>
<text x="24.85" y="590.80" font-size="6.4" text-anchor="middle" textLength="19.70" lengthAdjust="spacingAndGlyphs" fill="#333" stroke="#333" stroke-width="0.13">1e+01</text>
<line x1="38.00" y1="626.50" x2="40.70" y2="626.50" stroke="#555" stroke-width="0.9"/>
<text x="24.85" y="628.90" font-size="6.4" text-anchor="middle" textLength="19.70" lengthAdjust="spacingAndGlyphs" fill="#333" stroke="#333" stroke-width="0.13">1e−01</text>
<line x1="66.50" y1="661.30" x2="66.50" y2="664.10" stroke="#555" stroke-width="0.9"/>
<line x1="125.50" y1="661.30" x2="125.50" y2="664.10" stroke="#555" stroke-width="0.9"/>
<line x1="191.50" y1="661.30" x2="191.50" y2="664.10" stroke="#555" stroke-width="0.9"/>
<line x1="251.50" y1="661.30" x2="251.50" y2="664.10" stroke="#555" stroke-width="0.9"/>
<text x="66.55" y="673.98" font-size="6.6" text-anchor="middle" textLength="49.70" lengthAdjust="spacingAndGlyphs" stroke="#2a2a2a" stroke-width="0.13">Non-responders</text>
<text x="126.00" y="673.98" font-size="6.6" text-anchor="middle" textLength="36.00" lengthAdjust="spacingAndGlyphs" stroke="#2a2a2a" stroke-width="0.13">Responders</text>
<text x="191.40" y="673.98" font-size="6.6" text-anchor="middle" textLength="49.40" lengthAdjust="spacingAndGlyphs" stroke="#2a2a2a" stroke-width="0.13">Non-responders</text>
<text x="251.05" y="673.98" font-size="6.6" text-anchor="middle" textLength="36.10" lengthAdjust="spacingAndGlyphs" stroke="#2a2a2a" stroke-width="0.13">Responders</text>
<text x="86.20" y="550.97" font-size="5.2" fill="#444" textLength="20.60" lengthAdjust="spacingAndGlyphs"><tspan font-style="italic">P</tspan> = .049</text>
<text x="212.50" y="550.97" font-size="5.2" fill="#444" textLength="17.20" lengthAdjust="spacingAndGlyphs"><tspan font-style="italic">P</tspan> = .22</text>
<rect x="45.00" y="607.80" width="42.50" height="6.00" fill="#e38c81" />
<line x1="66.50" y1="613.80" x2="66.50" y2="620.70" stroke="#d0283f" stroke-width="1.05"/>
<line x1="66.50" y1="607.80" x2="66.50" y2="613.80" stroke="#d0283f" stroke-width="1" stroke-opacity="0.18"/>
<line x1="45.00" y1="612.00" x2="87.50" y2="612.00" stroke="#c8102e" stroke-width="2.1"/>
<circle cx="52.80" cy="607.80" r="1.4" fill="#b3102e"/>
<circle cx="68.20" cy="607.80" r="1.4" fill="#b3102e"/>
<circle cx="61.80" cy="614.20" r="1.4" fill="#b3102e"/>
<circle cx="56.60" cy="620.70" r="1.4" fill="#b3102e"/>
<rect x="104.20" y="562.00" width="42.40" height="43.80" fill="#8e99c0" />
<line x1="125.50" y1="555.80" x2="125.50" y2="562.00" stroke="#24508f" stroke-width="1.05"/>
<line x1="125.50" y1="605.80" x2="125.50" y2="631.00" stroke="#24508f" stroke-width="1.05"/>
<line x1="125.50" y1="562.00" x2="125.50" y2="605.80" stroke="#24508f" stroke-width="1" stroke-opacity="0.18"/>
<line x1="104.20" y1="574.40" x2="146.60" y2="574.40" stroke="#1b3f7b" stroke-width="2.1"/>
<circle cx="115.00" cy="558.10" r="1.4" fill="#192f57"/>
<circle cx="121.40" cy="561.00" r="1.4" fill="#192f57"/>
<circle cx="126.00" cy="556.30" r="1.4" fill="#192f57"/>
<circle cx="127.30" cy="556.30" r="1.4" fill="#192f57"/>
<circle cx="133.20" cy="555.80" r="1.4" fill="#192f57"/>
<circle cx="128.10" cy="564.80" r="1.4" fill="#192f57"/>
<circle cx="137.60" cy="573.00" r="1.4" fill="#192f57"/>
<circle cx="125.30" cy="592.40" r="1.4" fill="#192f57"/>
<circle cx="116.30" cy="606.00" r="1.4" fill="#192f57"/>
<circle cx="122.20" cy="607.80" r="1.4" fill="#192f57"/>
<circle cx="132.50" cy="631.00" r="1.4" fill="#192f57"/>
<circle cx="135.00" cy="626.60" r="1.4" fill="#192f57"/>
<rect x="170.30" y="599.60" width="42.70" height="10.30" fill="#e38c81" />
<line x1="191.50" y1="585.20" x2="191.50" y2="599.60" stroke="#d0283f" stroke-width="1.05"/>
<line x1="191.50" y1="609.90" x2="191.50" y2="615.00" stroke="#d0283f" stroke-width="1.05"/>
<line x1="191.50" y1="599.60" x2="191.50" y2="609.90" stroke="#d0283f" stroke-width="1" stroke-opacity="0.18"/>
<line x1="170.30" y1="603.20" x2="213.00" y2="603.20" stroke="#c8102e" stroke-width="2.1"/>
<circle cx="183.20" cy="585.20" r="1.4" fill="#b3102e"/>
<circle cx="200.20" cy="585.20" r="1.4" fill="#b3102e"/>
<circle cx="179.30" cy="591.60" r="1.4" fill="#b3102e"/>
<circle cx="181.40" cy="601.40" r="1.4" fill="#b3102e"/>
<circle cx="189.10" cy="601.40" r="1.4" fill="#b3102e"/>
<circle cx="194.20" cy="604.00" r="1.4" fill="#b3102e"/>
<circle cx="199.40" cy="601.40" r="1.4" fill="#b3102e"/>
<circle cx="198.60" cy="608.30" r="1.4" fill="#b3102e"/>
<circle cx="204.50" cy="607.30" r="1.4" fill="#b3102e"/>
<circle cx="178.80" cy="615.00" r="1.4" fill="#b3102e"/>
<circle cx="178.80" cy="646.40" r="1.4" fill="#b3102e"/>
<circle cx="190.40" cy="652.30" r="1.4" fill="#b3102e"/>
<rect x="229.20" y="606.00" width="42.50" height="23.70" fill="#8e99c0" />
<line x1="251.50" y1="576.40" x2="251.50" y2="606.00" stroke="#24508f" stroke-width="1.05"/>
<line x1="251.50" y1="629.70" x2="251.50" y2="655.40" stroke="#24508f" stroke-width="1.05"/>
<line x1="251.50" y1="606.00" x2="251.50" y2="629.70" stroke="#24508f" stroke-width="1" stroke-opacity="0.18"/>
<line x1="229.20" y1="621.50" x2="271.70" y2="621.50" stroke="#1b3f7b" stroke-width="2.1"/>
<circle cx="242.10" cy="554.30" r="1.4" fill="#192f57"/>
<circle cx="237.40" cy="575.10" r="1.4" fill="#192f57"/>
<circle cx="251.90" cy="594.90" r="1.4" fill="#192f57"/>
<circle cx="238.20" cy="604.70" r="1.4" fill="#192f57"/>
<circle cx="242.10" cy="606.50" r="1.4" fill="#192f57"/>
<circle cx="251.10" cy="606.50" r="1.4" fill="#192f57"/>
<circle cx="264.00" cy="607.30" r="1.4" fill="#192f57"/>
<circle cx="237.70" cy="627.90" r="1.4" fill="#192f57"/>
<circle cx="256.20" cy="625.30" r="1.4" fill="#192f57"/>
<circle cx="257.50" cy="627.90" r="1.4" fill="#192f57"/>
<circle cx="258.80" cy="631.00" r="1.4" fill="#192f57"/>
<circle cx="245.20" cy="646.40" r="1.4" fill="#192f57"/>
<circle cx="247.70" cy="646.40" r="1.4" fill="#192f57"/>
<circle cx="240.80" cy="656.20" r="1.4" fill="#192f57"/>
<text x="284.30" y="525.50" font-size="11.8" font-weight="bold" fill="#000">G</text>
<circle cx="353.40" cy="524.20" r="1.3" fill="#b3102e"/>
<text x="384.00" y="526.72" font-size="7.0" text-anchor="middle" textLength="54.20" lengthAdjust="spacingAndGlyphs" stroke="#2a2a2a" stroke-width="0.13">Non-responder</text>
<circle cx="422.70" cy="524.20" r="1.3" fill="#192f57"/>
<text x="446.60" y="526.72" font-size="7.0" text-anchor="middle" textLength="38.60" lengthAdjust="spacingAndGlyphs" stroke="#2a2a2a" stroke-width="0.13">Responder</text>
<text x="367.90" y="539.70" font-size="8.9" text-anchor="middle" textLength="63.60" lengthAdjust="spacingAndGlyphs" stroke="#2a2a2a" stroke-width="0.13">F-652 recipients</text>
<text x="472.40" y="539.70" font-size="8.9" text-anchor="middle" textLength="59.20" lengthAdjust="spacingAndGlyphs" stroke="#2a2a2a" stroke-width="0.13">Control cohort</text>
<text x="302.20" y="604.41" font-size="7.8" text-anchor="middle" textLength="131.80" lengthAdjust="spacingAndGlyphs" stroke="#2a2a2a" stroke-width="0.13" transform="rotate(-90 302.20 601.60)">Fold-change α-diversity (inverse simpson)</text>
<line x1="326.50" y1="545.50" x2="326.50" y2="659.60" stroke="#1e1e1e" stroke-width="1.0"/>
<line x1="326.05" y1="659.50" x2="408.50" y2="659.50" stroke="#1e1e1e" stroke-width="1.0"/>
<line x1="431.50" y1="545.50" x2="431.50" y2="659.60" stroke="#1e1e1e" stroke-width="1.0"/>
<line x1="430.75" y1="659.50" x2="513.00" y2="659.50" stroke="#1e1e1e" stroke-width="1.0"/>
<line x1="323.40" y1="577.50" x2="326.50" y2="577.50" stroke="#555" stroke-width="0.9"/>
<text x="315.20" y="579.78" font-size="6.6" text-anchor="middle" textLength="9.40" lengthAdjust="spacingAndGlyphs" fill="#333" stroke="#333" stroke-width="0.13">3.0</text>
<line x1="323.40" y1="608.50" x2="326.50" y2="608.50" stroke="#555" stroke-width="0.9"/>
<text x="315.20" y="610.98" font-size="6.6" text-anchor="middle" textLength="9.40" lengthAdjust="spacingAndGlyphs" fill="#333" stroke="#333" stroke-width="0.13">1.0</text>
<line x1="323.40" y1="642.50" x2="326.50" y2="642.50" stroke="#555" stroke-width="0.9"/>
<text x="315.20" y="644.98" font-size="6.6" text-anchor="middle" textLength="9.40" lengthAdjust="spacingAndGlyphs" fill="#333" stroke="#333" stroke-width="0.13">0.3</text>
<line x1="351.50" y1="659.30" x2="351.50" y2="662.10" stroke="#555" stroke-width="0.9"/>
<text x="350.95" y="671.90" font-size="6.4" text-anchor="middle" textLength="17.30" lengthAdjust="spacingAndGlyphs" fill="#333" stroke="#333" stroke-width="0.13">1e−01</text>
<line x1="378.50" y1="659.30" x2="378.50" y2="662.10" stroke="#555" stroke-width="0.9"/>
<text x="378.20" y="671.90" font-size="6.4" text-anchor="middle" textLength="18.20" lengthAdjust="spacingAndGlyphs" fill="#333" stroke="#333" stroke-width="0.13">1e+01</text>
<line x1="405.50" y1="659.30" x2="405.50" y2="662.10" stroke="#555" stroke-width="0.9"/>
<text x="405.50" y="671.90" font-size="6.4" text-anchor="middle" textLength="19.00" lengthAdjust="spacingAndGlyphs" fill="#333" stroke="#333" stroke-width="0.13">1e+03</text>
<line x1="454.50" y1="659.30" x2="454.50" y2="662.10" stroke="#555" stroke-width="0.9"/>
<text x="455.45" y="671.90" font-size="6.4" text-anchor="middle" textLength="18.30" lengthAdjust="spacingAndGlyphs" fill="#333" stroke="#333" stroke-width="0.13">1e−01</text>
<line x1="482.50" y1="659.30" x2="482.50" y2="662.10" stroke="#555" stroke-width="0.9"/>
<text x="482.05" y="671.90" font-size="6.4" text-anchor="middle" textLength="18.30" lengthAdjust="spacingAndGlyphs" fill="#333" stroke="#333" stroke-width="0.13">1e+01</text>
<line x1="510.50" y1="659.30" x2="510.50" y2="662.10" stroke="#555" stroke-width="0.9"/>
<text x="510.10" y="671.90" font-size="6.4" text-anchor="middle" textLength="19.00" lengthAdjust="spacingAndGlyphs" fill="#333" stroke="#333" stroke-width="0.13">1e+03</text>
<text x="415.00" y="683.59" font-size="7.2" text-anchor="middle" textLength="99.20" lengthAdjust="spacingAndGlyphs" stroke="#2a2a2a" stroke-width="0.13">Fold-change Blautia abundance</text>
<text x="351.15" y="562.22" font-size="5.6" text-anchor="middle" textLength="41.90" lengthAdjust="spacingAndGlyphs" fill="#c24a5a" stroke="#c24a5a" stroke-width="0.13">R = 0.58, P = .31</text>
<text x="353.00" y="569.92" font-size="5.6" text-anchor="middle" textLength="45.60" lengthAdjust="spacingAndGlyphs" fill="#4a6088" stroke="#4a6088" stroke-width="0.13">R = 0.75, P = .003</text>
<text x="455.90" y="562.22" font-size="5.6" text-anchor="middle" textLength="43.20" lengthAdjust="spacingAndGlyphs" fill="#c24a5a" stroke="#c24a5a" stroke-width="0.13">R = 0.29, P = .37</text>
<text x="455.90" y="569.92" font-size="5.6" text-anchor="middle" textLength="43.20" lengthAdjust="spacingAndGlyphs" fill="#4a6088" stroke="#4a6088" stroke-width="0.13">R = 0.22, P = .43</text>
<circle cx="395.10" cy="560.20" r="1.4" fill="#192f57"/>
<circle cx="388.60" cy="567.10" r="1.4" fill="#192f57"/>
<circle cx="401.50" cy="567.10" r="1.4" fill="#192f57"/>
<circle cx="401.50" cy="577.40" r="1.4" fill="#192f57"/>
<circle cx="397.90" cy="583.40" r="1.4" fill="#192f57"/>
<circle cx="388.60" cy="587.20" r="1.4" fill="#192f57"/>
<circle cx="399.70" cy="589.80" r="1.4" fill="#192f57"/>
<circle cx="375.80" cy="600.60" r="1.4" fill="#192f57"/>
<circle cx="347.40" cy="606.00" r="1.4" fill="#192f57"/>
<circle cx="365.50" cy="625.80" r="1.4" fill="#192f57"/>
<circle cx="350.80" cy="634.80" r="1.4" fill="#192f57"/>
<circle cx="365.70" cy="654.10" r="1.4" fill="#192f57"/>
<circle cx="364.40" cy="594.40" r="1.4" fill="#b3102e"/>
<circle cx="364.40" cy="596.20" r="1.4" fill="#b3102e"/>
<circle cx="361.10" cy="613.00" r="1.4" fill="#b3102e"/>
<circle cx="360.30" cy="622.00" r="1.4" fill="#b3102e"/>
<circle cx="364.40" cy="640.80" r="1.4" fill="#b3102e"/>
<circle cx="355.20" cy="651.00" r="1.4" fill="#b3102e"/>
<circle cx="472.90" cy="550.40" r="1.4" fill="#b3102e"/>
<circle cx="471.90" cy="564.10" r="1.4" fill="#b3102e"/>
<circle cx="473.10" cy="599.60" r="1.4" fill="#b3102e"/>
<circle cx="480.60" cy="600.10" r="1.4" fill="#b3102e"/>
<circle cx="485.20" cy="598.80" r="1.4" fill="#b3102e"/>
<circle cx="437.10" cy="605.80" r="1.4" fill="#b3102e"/>
<circle cx="469.30" cy="607.30" r="1.4" fill="#b3102e"/>
<circle cx="468.50" cy="615.50" r="1.4" fill="#b3102e"/>
<circle cx="472.90" cy="614.20" r="1.4" fill="#b3102e"/>
<circle cx="485.20" cy="620.20" r="1.4" fill="#b3102e"/>
<circle cx="441.00" cy="654.10" r="1.4" fill="#b3102e"/>
<circle cx="508.90" cy="551.20" r="1.4" fill="#192f57"/>
<circle cx="441.00" cy="579.00" r="1.4" fill="#192f57"/>
<circle cx="434.30" cy="585.90" r="1.4" fill="#192f57"/>
<circle cx="452.30" cy="587.20" r="1.4" fill="#192f57"/>
<circle cx="459.00" cy="585.20" r="1.4" fill="#192f57"/>
<circle cx="469.30" cy="587.20" r="1.4" fill="#192f57"/>
<circle cx="492.40" cy="593.70" r="1.4" fill="#192f57"/>
<circle cx="454.30" cy="597.50" r="1.4" fill="#192f57"/>
<circle cx="456.40" cy="604.00" r="1.4" fill="#192f57"/>
<circle cx="471.30" cy="606.00" r="1.4" fill="#192f57"/>
<circle cx="478.00" cy="618.90" r="1.4" fill="#192f57"/>
<circle cx="441.00" cy="627.90" r="1.4" fill="#192f57"/>
<circle cx="470.30" cy="636.10" r="1.4" fill="#192f57"/>
<circle cx="470.30" cy="641.30" r="1.4" fill="#192f57"/>
<circle cx="454.30" cy="649.00" r="1.4" fill="#192f57"/>
</svg></body></html>
